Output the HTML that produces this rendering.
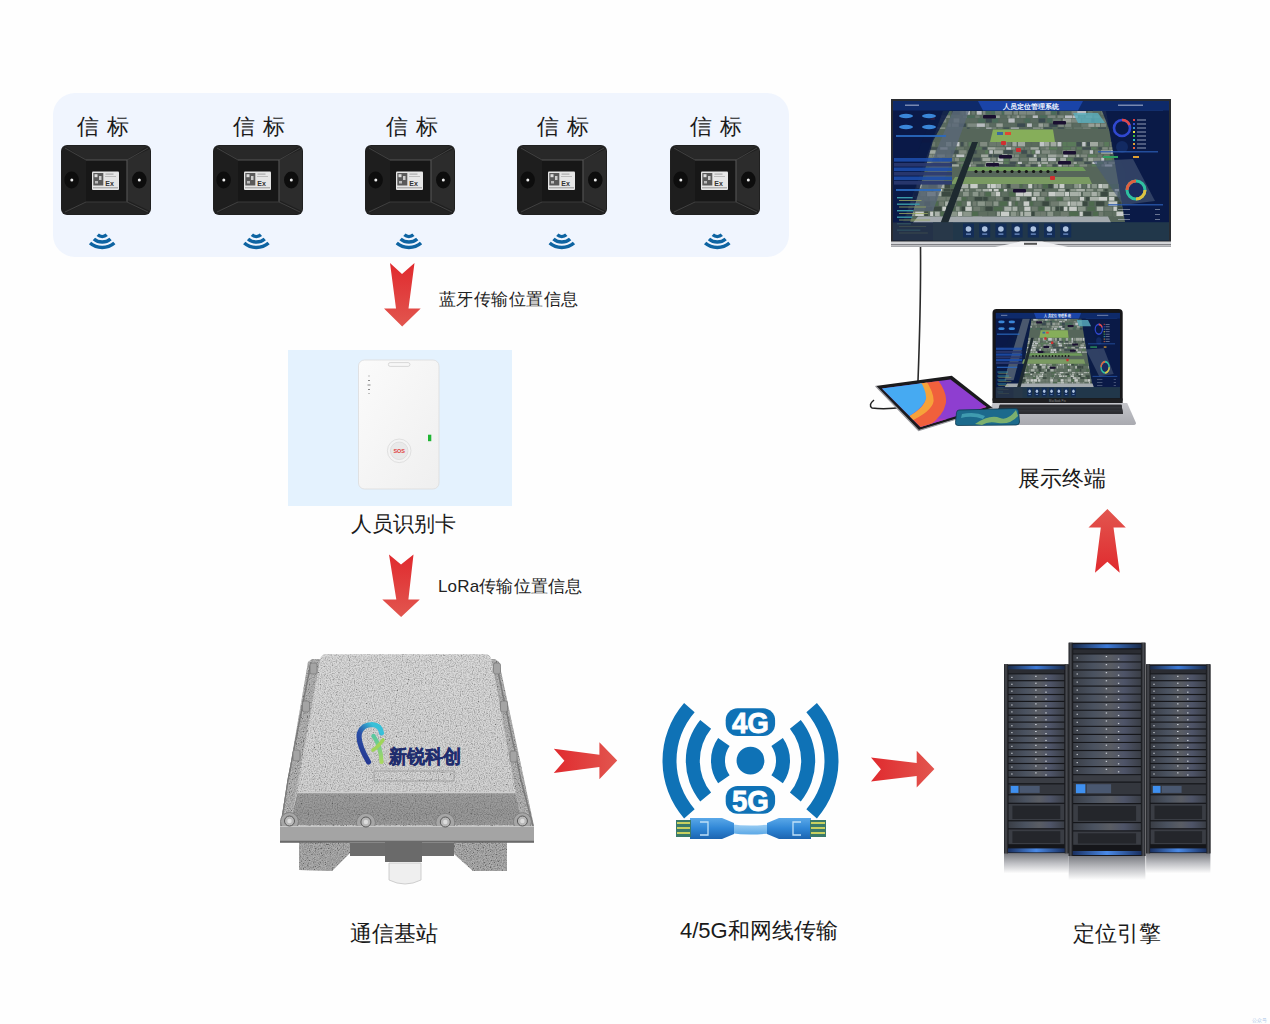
<!DOCTYPE html>
<html><head><meta charset="utf-8">
<style>
html,body{margin:0;padding:0}
body{width:1270px;height:1024px;position:relative;overflow:hidden;background:#fefefe;font-family:"Liberation Sans",sans-serif;color:#1a1a1a}
.a{position:absolute}
.lbl{position:absolute;white-space:nowrap;line-height:1}
</style></head><body>

<!-- beacon panel -->
<div class="a" style="left:53px;top:93px;width:736px;height:164px;background:#f0f5fe;border-radius:22px"></div>

<svg class="a" style="left:0;top:0" width="1270" height="1024"><defs><symbol id="bcn" viewBox="0 0 90 70">
<rect x="0" y="0" width="90" height="70" rx="6" fill="#202020"/>
<path d="M4 1 L86 1 L66 15 L25 15 Z" fill="#282828"/>
<path d="M89 4 L89 66 L66 55 L66 15 Z" fill="#2c2c2c"/>
<path d="M4 69 L86 69 L66 57 L25 57 Z" fill="#232323"/>
<path d="M1 4 L1 66 L25 57 L25 15 Z" fill="#1e1e1e"/>
<rect x="25" y="15" width="41" height="42" fill="#171717"/>
<path d="M25 15 L66 15 L66 57" fill="none" stroke="#555" stroke-width="1.1"/>
<path d="M66 15 L87 3 M66 57 L87 67 M25 57 L4 67 M25 15 L4 3" fill="none" stroke="#444" stroke-width="0.9"/>
<path d="M25 57 L66 57" stroke="#3a3a3a" stroke-width="1"/>
<ellipse cx="10.6" cy="35" rx="7.3" ry="8.5" fill="#0d0d0d"/><circle cx="10.8" cy="35" r="1.5" fill="#eee"/>
<ellipse cx="78.3" cy="35" rx="7.3" ry="8.5" fill="#0d0d0d"/><circle cx="78.3" cy="35" r="1.5" fill="#eee"/>
<rect x="31" y="26.5" width="27" height="18.5" rx="1" fill="#e6e6e6"/>
<rect x="32.3" y="28" width="10" height="12.5" fill="#5a5a5a"/>
<rect x="33.5" y="29.2" width="3" height="3" fill="#ddd"/><rect x="38" y="31" width="2.5" height="4" fill="#ccc"/><rect x="34" y="36" width="3" height="2.5" fill="#bbb"/>
<rect x="44.5" y="28.5" width="8" height="1.2" fill="#aaa"/><rect x="44" y="31" width="11" height="1" fill="#bbb"/>
<text x="44.3" y="40.5" font-family="Liberation Sans" font-size="7" font-weight="bold" fill="#333">Ex</text>
<rect x="32" y="42.3" width="25" height="1" fill="#999"/>
</symbol>
<symbol id="wifi" viewBox="0 0 26 17" preserveAspectRatio="none">
<path d="M17.35 1.83 A6.5 6.5 0 0 1 8.65 1.83 M21.03 5.92 A12 12 0 0 1 4.97 5.92 M24.71 10 A17.5 17.5 0 0 1 1.29 10" fill="none" stroke="#0e64a2" stroke-width="3.3"/>
</symbol></defs><use href="#bcn" x="61" y="145" width="90" height="70"/><use href="#wifi" x="88.7" y="233" width="27" height="17"/><use href="#bcn" x="213" y="145" width="90" height="70"/><use href="#wifi" x="242.9" y="233" width="27" height="17"/><use href="#bcn" x="365" y="145" width="90" height="70"/><use href="#wifi" x="395.4" y="233" width="27" height="17"/><use href="#bcn" x="517" y="145" width="90" height="70"/><use href="#wifi" x="548.3" y="233" width="27" height="17"/><use href="#bcn" x="670" y="145" width="90" height="70"/><use href="#wifi" x="703.8" y="233" width="27" height="17"/></svg>
<div class="lbl" style="left:77px;top:116px;font-size:22px;letter-spacing:7.5px">信标</div>
<div class="lbl" style="left:233px;top:116px;font-size:22px;letter-spacing:7.5px">信标</div>
<div class="lbl" style="left:386px;top:116px;font-size:22px;letter-spacing:7.5px">信标</div>
<div class="lbl" style="left:537px;top:116px;font-size:22px;letter-spacing:7.5px">信标</div>
<div class="lbl" style="left:690px;top:116px;font-size:22px;letter-spacing:7.5px">信标</div>

<!-- arrows -->
<svg class="a" style="left:0;top:0" width="1270" height="1024">
<defs>
<linearGradient id="rv" x1="0" y1="0" x2="0" y2="1"><stop offset="0" stop-color="#e02a2e"/><stop offset="1" stop-color="#e2564f"/></linearGradient>
<linearGradient id="rh" x1="0" y1="0" x2="1" y2="0"><stop offset="0" stop-color="#e02a2e"/><stop offset="1" stop-color="#e2564f"/></linearGradient>
<linearGradient id="ru" x1="0" y1="1" x2="0" y2="0"><stop offset="0" stop-color="#e02a2e"/><stop offset="1" stop-color="#e2564f"/></linearGradient>
</defs>
<path d="M390 263 L402 274 L414.5 263 L408.5 308.5 L420.7 308.5 L402.2 326.5 L384 308.5 L396 308.5 Z" fill="url(#rv)"/>
<path d="M389 554.5 L401 564.4 L413.5 554.5 L408.4 599.4 L419.8 599.4 L401.1 617 L382.3 599.4 L396.3 599.4 Z" fill="url(#rv)"/>
<path d="M553.8 748.7 L599.4 754.8 L599.4 742.2 L617.2 760.5 L599.4 779.2 L599.4 767 L553.8 772.9 L564.4 760.7 Z" fill="url(#rh)"/>
<path d="M871 757.4 L916.7 763 L916.7 750.7 L934.4 769 L916.7 787.4 L916.7 776 L871 781.5 L880.9 769.3 Z" fill="url(#rh)"/>
<path d="M1107.4 509.1 L1125.8 527.5 L1113.5 527.5 L1119.7 572.8 L1107.4 561.8 L1095 572.8 L1100.8 527.5 L1088.5 527.5 Z" fill="url(#ru)"/>
</svg>


<!-- ID card -->
<div class="a" style="left:288px;top:350px;width:224px;height:156px;background:#e4f2fe"></div>
<svg class="a" style="left:0;top:0" width="1270" height="1024">
<defs><linearGradient id="cardg" x1="0" y1="0" x2="1" y2="1"><stop offset="0" stop-color="#fbfbfb"/><stop offset="1" stop-color="#efefef"/></linearGradient></defs>
<rect x="358.5" y="360" width="80.5" height="129" rx="6" fill="url(#cardg)" stroke="#dcdcdc" stroke-width="0.8"/>
<rect x="388.4" y="362.6" width="21.5" height="3.8" rx="1.8" fill="#f7f7f7" stroke="#cfcfcf" stroke-width="0.8"/>
<g fill="#888"><rect x="368.5" y="375.5" width="1" height="1"/><rect x="368" y="380" width="2" height="1"/><rect x="367.5" y="384.5" width="3" height="1"/><rect x="368" y="389" width="2" height="1"/><rect x="368.5" y="393" width="1" height="1"/></g>
<circle cx="399.2" cy="450.8" r="11.8" fill="#f4f4f4" stroke="#e0e0e0" stroke-width="1"/>
<circle cx="399.2" cy="450.8" r="8.8" fill="#e9e9e9" stroke="#d4d4d4" stroke-width="0.6"/>
<text x="399.2" y="452.8" text-anchor="middle" font-family="Liberation Sans" font-size="5.5" font-weight="bold" fill="#e04040">SOS</text>
<rect x="428" y="434.7" width="3.3" height="6.5" fill="#1fb533"/>
</svg>


<!-- base station -->
<svg class="a" style="left:0;top:0" width="1270" height="1024">
<defs>
<linearGradient id="lidg" x1="0" y1="0" x2="0" y2="1"><stop offset="0" stop-color="#c2c2c2"/><stop offset="1" stop-color="#b8b8b8"/></linearGradient>
<linearGradient id="frontg" x1="0" y1="0" x2="0" y2="1"><stop offset="0" stop-color="#8e8e8e"/><stop offset="0.7" stop-color="#7e7e7e"/><stop offset="1" stop-color="#8a8a8a"/></linearGradient>
<filter id="grain" x="0" y="0" width="100%" height="100%"><feTurbulence type="fractalNoise" baseFrequency="0.83" numOctaves="2" seed="3"/><feColorMatrix type="matrix" values="2.0 0 0 0 -0.3  2.0 0 0 0 -0.3  2.0 0 0 0 -0.3  0 0 0 0 0.4"/><feComposite in2="SourceGraphic" operator="in"/></filter>
<filter id="grainD" x="0" y="0" width="100%" height="100%"><feTurbulence type="fractalNoise" baseFrequency="0.83" numOctaves="2" seed="9"/><feColorMatrix type="matrix" values="2.0 0 0 0 -0.5  2.0 0 0 0 -0.5  2.0 0 0 0 -0.5  0 0 0 0 0.3"/><feComposite in2="SourceGraphic" operator="in"/></filter>
<linearGradient id="logoL" x1="0" y1="1" x2="0.6" y2="0"><stop offset="0" stop-color="#22308a"/><stop offset="0.6" stop-color="#2a50a8"/><stop offset="1" stop-color="#38c0d8"/></linearGradient>
<linearGradient id="logoG" x1="0" y1="0" x2="0" y2="1"><stop offset="0" stop-color="#5ac8a0"/><stop offset="1" stop-color="#a8d860"/></linearGradient>
</defs>
<!-- rails -->
<path d="M308 662 L312 659 L495 659 L499 662 L534 826 L280 826 Z" fill="#9e9e9e"/>
<path d="M311 662 L288 780 L281 826" fill="none" stroke="#7a7a7a" stroke-width="1.2"/>
<path d="M496 662 L521 780 L533 826" fill="none" stroke="#7a7a7a" stroke-width="1.2"/>
<!-- feet & under -->
<path d="M350 843 L454 843 L454 856 L350 856 Z" fill="#6c6c6c"/>
<path d="M299 842 L350 842 L350 853 L332 871 L299 870 Z" fill="#929292"/>
<path d="M454 842 L507 842 L507 871 L473 871 L454 854 Z" fill="#929292"/>
<path d="M385 842 L422 842 L422 862 L385 862 Z" fill="#6a6a6a"/>
<path d="M389 863 L421 863 L421 880 Q405 888 389 880 Z" fill="#efefef" stroke="#c4c4c4" stroke-width="0.8"/>
<!-- flange band -->
<path d="M280 824 L534 824 L534 842 L280 842 Z" fill="#a9a9a9"/>
<path d="M280 842 L534 842" stroke="#6e6e6e" stroke-width="1.2"/>
<path d="M281 826 L533 826" stroke="#c4c4c4" stroke-width="1"/>
<g filter="url(#grainD)"><path d="M308 662 L312 659 L495 659 L499 662 L534 826 L534 842 L280 842 L280 826 Z M299 842 L350 842 L350 853 L332 871 L299 870 Z M454 842 L507 842 L507 871 L473 871 L454 854 Z" fill="#000"/></g>
<path d="M311 662 L288 780 L281 826" fill="none" stroke="#7a7a7a" stroke-width="1.2"/>
<path d="M496 662 L521 780 L533 826" fill="none" stroke="#7a7a7a" stroke-width="1.2"/>
<path d="M280 842 L534 842" stroke="#6e6e6e" stroke-width="1.2"/>
<!-- lid front face -->
<path d="M297.5 792 L515.5 792 L522 825 L290 825 Z" fill="url(#frontg)"/>
<path d="M297.5 792.5 L515.5 792.5" stroke="#c6c6c6" stroke-width="1.2"/>
<!-- lid top -->
<path d="M326 654.3 L485 654.3 Q490.5 654.3 491.5 660 L515.5 792 L297.5 792 L320 660 Q321 654.3 326 654.3 Z" fill="url(#lidg)"/>
<g filter="url(#grain)"><path d="M326 654.3 L485 654.3 Q490.5 654.3 491.5 660 L522 825 L290 825 L320 660 Q321 654.3 326 654.3 Z" fill="#000"/></g>
<path d="M297.5 793 L515.5 793 L522 825 L290 825 Z" fill="#6a6a6a" opacity="0.35"/>
<path d="M297.5 792.5 L515.5 792.5" stroke="#cfcfcf" stroke-width="1.4"/>
<!-- rail bumps -->
<g fill="#a4a4a4" stroke="#777" stroke-width="0.7">
<rect x="310" y="663" width="7" height="11" rx="2"/><rect x="302.5" y="701" width="7" height="11" rx="2"/><rect x="293" y="750" width="7" height="11" rx="2"/>
<rect x="493.5" y="663" width="7" height="11" rx="2"/><rect x="500.5" y="701" width="7" height="11" rx="2"/><rect x="510" y="751" width="7" height="11" rx="2"/>
</g>
<!-- bolts -->
<g fill="#a6a6a6" stroke="#808080" stroke-width="1">
<circle cx="289.5" cy="821.5" r="9"/><circle cx="365.9" cy="822.8" r="9.5"/><circle cx="445.3" cy="822.8" r="9.5"/><circle cx="522.4" cy="821.7" r="9"/>
</g>
<path d="M280 826 L534 826 L534 842 L280 842 Z" fill="#a4a4a4"/>
<path d="M280 826.5 L534 826.5" stroke="#c8c8c8" stroke-width="1.2"/>
<path d="M280 841.5 L534 841.5" stroke="#6a6a6a" stroke-width="1.4"/>
<g><circle cx="289.5" cy="821" r="5" fill="#b8b8b8" stroke="#5a5a5a" stroke-width="1"/><circle cx="289.5" cy="821" r="2.2" fill="#dcdcdc"/>
<circle cx="365.9" cy="822" r="5" fill="#b8b8b8" stroke="#5a5a5a" stroke-width="1"/><circle cx="365.9" cy="822" r="2.2" fill="#dcdcdc"/>
<circle cx="445.3" cy="822" r="5" fill="#b8b8b8" stroke="#5a5a5a" stroke-width="1"/><circle cx="445.3" cy="822" r="2.2" fill="#dcdcdc"/>
<circle cx="522.4" cy="821" r="5" fill="#b8b8b8" stroke="#5a5a5a" stroke-width="1"/><circle cx="522.4" cy="821" r="2.2" fill="#dcdcdc"/></g>
<!-- logo -->
<path d="M368.5 762 Q357 742 359.5 733 Q362.5 724.5 372 724.5 Q380.5 725 381.5 733" fill="none" stroke="url(#logoL)" stroke-width="5.2" stroke-linecap="round"/>
<path d="M373.5 736 Q381 746 381.5 762" fill="none" stroke="url(#logoG)" stroke-width="4.2" stroke-linecap="round"/>
<path d="M383 740 Q378 747 373 750" fill="none" stroke="#a0d45a" stroke-width="3.6" stroke-linecap="round"/>
<text x="389" y="763.3" font-family="Liberation Sans" font-size="18.5" font-weight="bold" fill="#1f2d6e" stroke="#1f2d6e" stroke-width="0.4" textLength="72" lengthAdjust="spacingAndGlyphs">新锐科创</text>
<rect x="374" y="771" width="80" height="10" fill="none" stroke="#999" stroke-width="0.8"/>
</svg>

<!-- 4G/5G icon -->
<svg class="a" style="left:0;top:0" width="1270" height="1024">
<defs>
<linearGradient id="plug" x1="0" y1="0" x2="0" y2="1"><stop offset="0" stop-color="#5aa8e8"/><stop offset="0.5" stop-color="#2f86d6"/><stop offset="1" stop-color="#1c64b0"/></linearGradient>
<linearGradient id="cablem" x1="0" y1="0" x2="0" y2="1"><stop offset="0" stop-color="#9fd0f5"/><stop offset="1" stop-color="#5ba8e6"/></linearGradient>
</defs>
<g fill="#0f72b6">
<path d="M718.14 738.04 A39.5 39.5 0 0 0 718.14 783.36 L729.61 775.33 A25.5 25.5 0 0 1 729.61 746.07 Z M782.86 738.04 A39.5 39.5 0 0 1 782.86 783.36 L771.39 775.33 A25.5 25.5 0 0 0 771.39 746.07 Z M700.22 719.98 A64.7 64.7 0 0 0 700.22 801.42 L711.10 792.61 A50.7 50.7 0 0 1 711.10 728.79 Z M800.78 719.98 A64.7 64.7 0 0 1 800.78 801.42 L789.90 792.61 A50.7 50.7 0 0 0 789.90 728.79 Z M684.09 702.97 A88.0 88.0 0 0 0 684.09 818.43 L694.65 809.25 A74.0 74.0 0 0 1 694.65 712.15 Z M816.91 702.97 A88.0 88.0 0 0 1 816.91 818.43 L806.35 809.25 A74.0 74.0 0 0 0 806.35 712.15 Z"/>
<circle cx="750.5" cy="760.7" r="13.9"/>
<rect x="725.7" y="708.2" width="49.4" height="27.7" rx="12"/>
<rect x="725.7" y="786.1" width="49.4" height="27.7" rx="12"/>
</g>
<text x="750.4" y="733.2" text-anchor="middle" font-family="Liberation Sans" font-weight="bold" font-size="29.5" fill="#fff" stroke="#fff" stroke-width="0.8" textLength="37" lengthAdjust="spacingAndGlyphs">4G</text>
<text x="750.4" y="811.2" text-anchor="middle" font-family="Liberation Sans" font-weight="bold" font-size="29.5" fill="#fff" stroke="#fff" stroke-width="0.8" textLength="37" lengthAdjust="spacingAndGlyphs">5G</text>
<!-- cable -->
<path d="M730 824 Q750 827 773 824 L773 833 Q750 836 730 833 Z" fill="url(#cablem)"/>
<path d="M690 818 L722 818 L734 823 L734 834 L722 839 L690 839 Z" fill="url(#plug)"/>
<path d="M811 818 L779 818 L767 823 L767 834 L779 839 L811 839 Z" fill="url(#plug)"/>
<rect x="676" y="820" width="15" height="17" fill="#3a7a6a"/>
<rect x="810" y="820" width="16" height="17" fill="#3a7a6a"/>
<g fill="#c8d060"><rect x="677" y="822" width="13" height="2"/><rect x="677" y="827" width="13" height="2"/><rect x="677" y="832" width="13" height="2"/>
<rect x="811" y="822" width="14" height="2"/><rect x="811" y="827" width="14" height="2"/><rect x="811" y="832" width="14" height="2"/></g>
<path d="M700 822 L708 822 L708 835 L700 835" fill="none" stroke="#bfe0f8" stroke-width="1.3"/>
<path d="M801 822 L793 822 L793 835 L801 835" fill="none" stroke="#bfe0f8" stroke-width="1.3"/>
</svg>

<!-- servers -->
<svg class="a" style="left:0;top:0" width="1270" height="1024"><defs>
<linearGradient id="glowT" x1="0" y1="0" x2="1" y2="0"><stop offset="0" stop-color="#1a2a48"/><stop offset="0.5" stop-color="#3c7ad8"/><stop offset="1" stop-color="#1a2a48"/></linearGradient>
<linearGradient id="glowB" x1="0" y1="0" x2="1" y2="0"><stop offset="0" stop-color="#1a3060"/><stop offset="0.5" stop-color="#4a8ae8"/><stop offset="1" stop-color="#1a3060"/></linearGradient>
<linearGradient id="unit" x1="0" y1="0" x2="1" y2="0"><stop offset="0" stop-color="#3a3e46"/><stop offset="0.3" stop-color="#4a5260"/><stop offset="0.55" stop-color="#5a5d64"/><stop offset="0.75" stop-color="#4e5468"/><stop offset="1" stop-color="#3a3e46"/></linearGradient>
<linearGradient id="rail" x1="0" y1="0" x2="1" y2="0"><stop offset="0" stop-color="#222428"/><stop offset="0.5" stop-color="#4a4c52"/><stop offset="1" stop-color="#1a1b1f"/></linearGradient>
<linearGradient id="refl" x1="0" y1="0" x2="0" y2="1"><stop offset="0" stop-color="#7a7c82"/><stop offset="0.5" stop-color="#bfc0c4"/><stop offset="1" stop-color="#fefefe"/></linearGradient>
</defs>
<rect x="1004" y="853.4" width="64.7" height="20" fill="url(#refl)"/>
<rect x="1146.1" y="853.4" width="64.3" height="20" fill="url(#refl)"/>
<rect x="1068.7" y="856" width="76.7" height="24" fill="url(#refl)"/>
<rect x="1004" y="664.3" width="64.7" height="189.1" fill="#15161a"/>
<rect x="1004" y="664.3" width="4" height="189.1" fill="url(#rail)"/>
<rect x="1064.7" y="664.3" width="4" height="189.1" fill="url(#rail)"/>
<rect x="1008" y="665.8" width="56.7" height="4" fill="url(#glowT)"/>
<rect x="1008.5" y="669.4" width="55.7" height="4" fill="#2a2c32"/>
<rect x="1008.5" y="674.4" width="55.7" height="5.7" fill="url(#unit)"/>
<rect x="1011.3" y="676.8" width="1.2" height="1.2" fill="#d0d4da"/>
<rect x="1035.2" y="675.8" width="1.4" height="1" fill="#e0e4ea"/>
<rect x="1045.3" y="677.9" width="1.4" height="1.2" fill="#c8ccd2"/>
<rect x="1008.5" y="681.3" width="55.7" height="5.7" fill="url(#unit)"/>
<rect x="1011.3" y="683.7" width="1.2" height="1.2" fill="#d0d4da"/>
<rect x="1035.2" y="682.7" width="1.4" height="1" fill="#e0e4ea"/>
<rect x="1045.3" y="684.8" width="1.4" height="1.2" fill="#c8ccd2"/>
<rect x="1008.5" y="688.2" width="55.7" height="5.7" fill="url(#unit)"/>
<rect x="1011.3" y="690.6" width="1.2" height="1.2" fill="#d0d4da"/>
<rect x="1035.2" y="689.6" width="1.4" height="1" fill="#e0e4ea"/>
<rect x="1045.3" y="691.6" width="1.4" height="1.2" fill="#c8ccd2"/>
<rect x="1008.5" y="695.1" width="55.7" height="5.7" fill="url(#unit)"/>
<rect x="1011.3" y="697.5" width="1.2" height="1.2" fill="#d0d4da"/>
<rect x="1035.2" y="696.5" width="1.4" height="1" fill="#e0e4ea"/>
<rect x="1045.3" y="698.5" width="1.4" height="1.2" fill="#c8ccd2"/>
<rect x="1008.5" y="702.0" width="55.7" height="5.7" fill="url(#unit)"/>
<rect x="1011.3" y="704.4" width="1.2" height="1.2" fill="#d0d4da"/>
<rect x="1035.2" y="703.4" width="1.4" height="1" fill="#e0e4ea"/>
<rect x="1045.3" y="705.4" width="1.4" height="1.2" fill="#c8ccd2"/>
<rect x="1008.5" y="708.9" width="55.7" height="5.7" fill="url(#unit)"/>
<rect x="1011.3" y="711.3" width="1.2" height="1.2" fill="#d0d4da"/>
<rect x="1035.2" y="710.3" width="1.4" height="1" fill="#e0e4ea"/>
<rect x="1045.3" y="712.3" width="1.4" height="1.2" fill="#c8ccd2"/>
<rect x="1008.5" y="715.8" width="55.7" height="5.7" fill="url(#unit)"/>
<rect x="1011.3" y="718.2" width="1.2" height="1.2" fill="#d0d4da"/>
<rect x="1035.2" y="717.2" width="1.4" height="1" fill="#e0e4ea"/>
<rect x="1045.3" y="719.2" width="1.4" height="1.2" fill="#c8ccd2"/>
<rect x="1008.5" y="722.7" width="55.7" height="5.7" fill="url(#unit)"/>
<rect x="1011.3" y="725.1" width="1.2" height="1.2" fill="#d0d4da"/>
<rect x="1035.2" y="724.1" width="1.4" height="1" fill="#e0e4ea"/>
<rect x="1045.3" y="726.1" width="1.4" height="1.2" fill="#c8ccd2"/>
<rect x="1008.5" y="729.6" width="55.7" height="5.7" fill="url(#unit)"/>
<rect x="1011.3" y="732.0" width="1.2" height="1.2" fill="#d0d4da"/>
<rect x="1035.2" y="731.0" width="1.4" height="1" fill="#e0e4ea"/>
<rect x="1045.3" y="733.0" width="1.4" height="1.2" fill="#c8ccd2"/>
<rect x="1008.5" y="736.5" width="55.7" height="5.7" fill="url(#unit)"/>
<rect x="1011.3" y="738.9" width="1.2" height="1.2" fill="#d0d4da"/>
<rect x="1035.2" y="737.9" width="1.4" height="1" fill="#e0e4ea"/>
<rect x="1045.3" y="739.9" width="1.4" height="1.2" fill="#c8ccd2"/>
<rect x="1008.5" y="743.4" width="55.7" height="5.7" fill="url(#unit)"/>
<rect x="1011.3" y="745.8" width="1.2" height="1.2" fill="#d0d4da"/>
<rect x="1035.2" y="744.8" width="1.4" height="1" fill="#e0e4ea"/>
<rect x="1045.3" y="746.8" width="1.4" height="1.2" fill="#c8ccd2"/>
<rect x="1008.5" y="750.3" width="55.7" height="5.7" fill="url(#unit)"/>
<rect x="1011.3" y="752.7" width="1.2" height="1.2" fill="#d0d4da"/>
<rect x="1035.2" y="751.7" width="1.4" height="1" fill="#e0e4ea"/>
<rect x="1045.3" y="753.7" width="1.4" height="1.2" fill="#c8ccd2"/>
<rect x="1008.5" y="757.2" width="55.7" height="5.7" fill="url(#unit)"/>
<rect x="1011.3" y="759.6" width="1.2" height="1.2" fill="#d0d4da"/>
<rect x="1035.2" y="758.6" width="1.4" height="1" fill="#e0e4ea"/>
<rect x="1045.3" y="760.6" width="1.4" height="1.2" fill="#c8ccd2"/>
<rect x="1008.5" y="764.1" width="55.7" height="5.7" fill="url(#unit)"/>
<rect x="1011.3" y="766.5" width="1.2" height="1.2" fill="#d0d4da"/>
<rect x="1035.2" y="765.5" width="1.4" height="1" fill="#e0e4ea"/>
<rect x="1045.3" y="767.5" width="1.4" height="1.2" fill="#c8ccd2"/>
<rect x="1008.5" y="771.0" width="55.7" height="5.7" fill="url(#unit)"/>
<rect x="1011.3" y="773.4" width="1.2" height="1.2" fill="#d0d4da"/>
<rect x="1035.2" y="772.4" width="1.4" height="1" fill="#e0e4ea"/>
<rect x="1045.3" y="774.4" width="1.4" height="1.2" fill="#c8ccd2"/>
<rect x="1008.5" y="777.9" width="55.7" height="5.3" fill="#3a3d44"/>
<rect x="1008.5" y="784.4" width="55.7" height="9.8" fill="#34373e"/>
<rect x="1010.7" y="785.9" width="7.8" height="7.0" fill="#3f90f0"/>
<rect x="1019.6" y="785.9" width="20.1" height="7.0" fill="#4a5870"/>
<rect x="1008.5" y="795.4" width="55.7" height="7.3" fill="url(#unit)"/>
<rect x="1008.5" y="803.9" width="55.7" height="16.3" fill="#3a3d44"/>
<rect x="1012.4" y="805.7" width="47.9" height="13.3" fill="#24262b"/>
<rect x="1008.5" y="821.4" width="55.7" height="6.8" fill="url(#unit)"/>
<rect x="1008.5" y="829.4" width="55.7" height="14.8" fill="#3a3d44"/>
<rect x="1012.4" y="831.2" width="47.9" height="11.8" fill="#24262b"/>
<rect x="1008" y="848.4" width="56.7" height="4" fill="url(#glowB)"/>
<rect x="1146.1" y="664.3" width="64.3" height="189.1" fill="#15161a"/>
<rect x="1146.1" y="664.3" width="4" height="189.1" fill="url(#rail)"/>
<rect x="1206.4" y="664.3" width="4" height="189.1" fill="url(#rail)"/>
<rect x="1150.1" y="665.8" width="56.3" height="4" fill="url(#glowT)"/>
<rect x="1150.6" y="669.4" width="55.3" height="4" fill="#2a2c32"/>
<rect x="1150.6" y="674.4" width="55.3" height="5.7" fill="url(#unit)"/>
<rect x="1153.4" y="676.8" width="1.2" height="1.2" fill="#d0d4da"/>
<rect x="1177.1" y="675.8" width="1.4" height="1" fill="#e0e4ea"/>
<rect x="1187.1" y="677.9" width="1.4" height="1.2" fill="#c8ccd2"/>
<rect x="1150.6" y="681.3" width="55.3" height="5.7" fill="url(#unit)"/>
<rect x="1153.4" y="683.7" width="1.2" height="1.2" fill="#d0d4da"/>
<rect x="1177.1" y="682.7" width="1.4" height="1" fill="#e0e4ea"/>
<rect x="1187.1" y="684.8" width="1.4" height="1.2" fill="#c8ccd2"/>
<rect x="1150.6" y="688.2" width="55.3" height="5.7" fill="url(#unit)"/>
<rect x="1153.4" y="690.6" width="1.2" height="1.2" fill="#d0d4da"/>
<rect x="1177.1" y="689.6" width="1.4" height="1" fill="#e0e4ea"/>
<rect x="1187.1" y="691.6" width="1.4" height="1.2" fill="#c8ccd2"/>
<rect x="1150.6" y="695.1" width="55.3" height="5.7" fill="url(#unit)"/>
<rect x="1153.4" y="697.5" width="1.2" height="1.2" fill="#d0d4da"/>
<rect x="1177.1" y="696.5" width="1.4" height="1" fill="#e0e4ea"/>
<rect x="1187.1" y="698.5" width="1.4" height="1.2" fill="#c8ccd2"/>
<rect x="1150.6" y="702.0" width="55.3" height="5.7" fill="url(#unit)"/>
<rect x="1153.4" y="704.4" width="1.2" height="1.2" fill="#d0d4da"/>
<rect x="1177.1" y="703.4" width="1.4" height="1" fill="#e0e4ea"/>
<rect x="1187.1" y="705.4" width="1.4" height="1.2" fill="#c8ccd2"/>
<rect x="1150.6" y="708.9" width="55.3" height="5.7" fill="url(#unit)"/>
<rect x="1153.4" y="711.3" width="1.2" height="1.2" fill="#d0d4da"/>
<rect x="1177.1" y="710.3" width="1.4" height="1" fill="#e0e4ea"/>
<rect x="1187.1" y="712.3" width="1.4" height="1.2" fill="#c8ccd2"/>
<rect x="1150.6" y="715.8" width="55.3" height="5.7" fill="url(#unit)"/>
<rect x="1153.4" y="718.2" width="1.2" height="1.2" fill="#d0d4da"/>
<rect x="1177.1" y="717.2" width="1.4" height="1" fill="#e0e4ea"/>
<rect x="1187.1" y="719.2" width="1.4" height="1.2" fill="#c8ccd2"/>
<rect x="1150.6" y="722.7" width="55.3" height="5.7" fill="url(#unit)"/>
<rect x="1153.4" y="725.1" width="1.2" height="1.2" fill="#d0d4da"/>
<rect x="1177.1" y="724.1" width="1.4" height="1" fill="#e0e4ea"/>
<rect x="1187.1" y="726.1" width="1.4" height="1.2" fill="#c8ccd2"/>
<rect x="1150.6" y="729.6" width="55.3" height="5.7" fill="url(#unit)"/>
<rect x="1153.4" y="732.0" width="1.2" height="1.2" fill="#d0d4da"/>
<rect x="1177.1" y="731.0" width="1.4" height="1" fill="#e0e4ea"/>
<rect x="1187.1" y="733.0" width="1.4" height="1.2" fill="#c8ccd2"/>
<rect x="1150.6" y="736.5" width="55.3" height="5.7" fill="url(#unit)"/>
<rect x="1153.4" y="738.9" width="1.2" height="1.2" fill="#d0d4da"/>
<rect x="1177.1" y="737.9" width="1.4" height="1" fill="#e0e4ea"/>
<rect x="1187.1" y="739.9" width="1.4" height="1.2" fill="#c8ccd2"/>
<rect x="1150.6" y="743.4" width="55.3" height="5.7" fill="url(#unit)"/>
<rect x="1153.4" y="745.8" width="1.2" height="1.2" fill="#d0d4da"/>
<rect x="1177.1" y="744.8" width="1.4" height="1" fill="#e0e4ea"/>
<rect x="1187.1" y="746.8" width="1.4" height="1.2" fill="#c8ccd2"/>
<rect x="1150.6" y="750.3" width="55.3" height="5.7" fill="url(#unit)"/>
<rect x="1153.4" y="752.7" width="1.2" height="1.2" fill="#d0d4da"/>
<rect x="1177.1" y="751.7" width="1.4" height="1" fill="#e0e4ea"/>
<rect x="1187.1" y="753.7" width="1.4" height="1.2" fill="#c8ccd2"/>
<rect x="1150.6" y="757.2" width="55.3" height="5.7" fill="url(#unit)"/>
<rect x="1153.4" y="759.6" width="1.2" height="1.2" fill="#d0d4da"/>
<rect x="1177.1" y="758.6" width="1.4" height="1" fill="#e0e4ea"/>
<rect x="1187.1" y="760.6" width="1.4" height="1.2" fill="#c8ccd2"/>
<rect x="1150.6" y="764.1" width="55.3" height="5.7" fill="url(#unit)"/>
<rect x="1153.4" y="766.5" width="1.2" height="1.2" fill="#d0d4da"/>
<rect x="1177.1" y="765.5" width="1.4" height="1" fill="#e0e4ea"/>
<rect x="1187.1" y="767.5" width="1.4" height="1.2" fill="#c8ccd2"/>
<rect x="1150.6" y="771.0" width="55.3" height="5.7" fill="url(#unit)"/>
<rect x="1153.4" y="773.4" width="1.2" height="1.2" fill="#d0d4da"/>
<rect x="1177.1" y="772.4" width="1.4" height="1" fill="#e0e4ea"/>
<rect x="1187.1" y="774.4" width="1.4" height="1.2" fill="#c8ccd2"/>
<rect x="1150.6" y="777.9" width="55.3" height="5.3" fill="#3a3d44"/>
<rect x="1150.6" y="784.4" width="55.3" height="9.8" fill="#34373e"/>
<rect x="1152.8" y="785.9" width="7.7" height="7.0" fill="#3f90f0"/>
<rect x="1161.7" y="785.9" width="19.9" height="7.0" fill="#4a5870"/>
<rect x="1150.6" y="795.4" width="55.3" height="7.3" fill="url(#unit)"/>
<rect x="1150.6" y="803.9" width="55.3" height="16.3" fill="#3a3d44"/>
<rect x="1154.5" y="805.7" width="47.6" height="13.3" fill="#24262b"/>
<rect x="1150.6" y="821.4" width="55.3" height="6.8" fill="url(#unit)"/>
<rect x="1150.6" y="829.4" width="55.3" height="14.8" fill="#3a3d44"/>
<rect x="1154.5" y="831.2" width="47.6" height="11.8" fill="#24262b"/>
<rect x="1150.1" y="848.4" width="56.3" height="4" fill="url(#glowB)"/>
<rect x="1068.7" y="642.7" width="76.7" height="213.3" fill="#15161a"/>
<rect x="1068.7" y="642.7" width="4" height="213.3" fill="url(#rail)"/>
<rect x="1141.4" y="642.7" width="4" height="213.3" fill="url(#rail)"/>
<rect x="1072.7" y="644.2" width="68.7" height="4" fill="url(#glowT)"/>
<rect x="1073.2" y="649.5" width="67.7" height="4" fill="#2a2c32"/>
<rect x="1073.2" y="654.5" width="67.7" height="6.9" fill="url(#unit)"/>
<rect x="1076.6" y="657.3" width="1.2" height="1.2" fill="#d0d4da"/>
<rect x="1105.7" y="656.1" width="1.4" height="1" fill="#e0e4ea"/>
<rect x="1117.9" y="658.5" width="1.4" height="1.2" fill="#c8ccd2"/>
<rect x="1073.2" y="662.5" width="67.7" height="6.9" fill="url(#unit)"/>
<rect x="1076.6" y="665.4" width="1.2" height="1.2" fill="#d0d4da"/>
<rect x="1105.7" y="664.2" width="1.4" height="1" fill="#e0e4ea"/>
<rect x="1117.9" y="666.6" width="1.4" height="1.2" fill="#c8ccd2"/>
<rect x="1073.2" y="670.6" width="67.7" height="6.9" fill="url(#unit)"/>
<rect x="1076.6" y="673.4" width="1.2" height="1.2" fill="#d0d4da"/>
<rect x="1105.7" y="672.2" width="1.4" height="1" fill="#e0e4ea"/>
<rect x="1117.9" y="674.6" width="1.4" height="1.2" fill="#c8ccd2"/>
<rect x="1073.2" y="678.6" width="67.7" height="6.9" fill="url(#unit)"/>
<rect x="1076.6" y="681.5" width="1.2" height="1.2" fill="#d0d4da"/>
<rect x="1105.7" y="680.3" width="1.4" height="1" fill="#e0e4ea"/>
<rect x="1117.9" y="682.7" width="1.4" height="1.2" fill="#c8ccd2"/>
<rect x="1073.2" y="686.7" width="67.7" height="6.9" fill="url(#unit)"/>
<rect x="1076.6" y="689.5" width="1.2" height="1.2" fill="#d0d4da"/>
<rect x="1105.7" y="688.3" width="1.4" height="1" fill="#e0e4ea"/>
<rect x="1117.9" y="690.7" width="1.4" height="1.2" fill="#c8ccd2"/>
<rect x="1073.2" y="694.7" width="67.7" height="6.9" fill="url(#unit)"/>
<rect x="1076.6" y="697.6" width="1.2" height="1.2" fill="#d0d4da"/>
<rect x="1105.7" y="696.4" width="1.4" height="1" fill="#e0e4ea"/>
<rect x="1117.9" y="698.8" width="1.4" height="1.2" fill="#c8ccd2"/>
<rect x="1073.2" y="702.8" width="67.7" height="6.9" fill="url(#unit)"/>
<rect x="1076.6" y="705.6" width="1.2" height="1.2" fill="#d0d4da"/>
<rect x="1105.7" y="704.4" width="1.4" height="1" fill="#e0e4ea"/>
<rect x="1117.9" y="706.8" width="1.4" height="1.2" fill="#c8ccd2"/>
<rect x="1073.2" y="710.8" width="67.7" height="6.9" fill="url(#unit)"/>
<rect x="1076.6" y="713.7" width="1.2" height="1.2" fill="#d0d4da"/>
<rect x="1105.7" y="712.5" width="1.4" height="1" fill="#e0e4ea"/>
<rect x="1117.9" y="714.9" width="1.4" height="1.2" fill="#c8ccd2"/>
<rect x="1073.2" y="718.9" width="67.7" height="6.9" fill="url(#unit)"/>
<rect x="1076.6" y="721.7" width="1.2" height="1.2" fill="#d0d4da"/>
<rect x="1105.7" y="720.5" width="1.4" height="1" fill="#e0e4ea"/>
<rect x="1117.9" y="722.9" width="1.4" height="1.2" fill="#c8ccd2"/>
<rect x="1073.2" y="726.9" width="67.7" height="6.9" fill="url(#unit)"/>
<rect x="1076.6" y="729.8" width="1.2" height="1.2" fill="#d0d4da"/>
<rect x="1105.7" y="728.6" width="1.4" height="1" fill="#e0e4ea"/>
<rect x="1117.9" y="731.0" width="1.4" height="1.2" fill="#c8ccd2"/>
<rect x="1073.2" y="735.0" width="67.7" height="6.9" fill="url(#unit)"/>
<rect x="1076.6" y="737.8" width="1.2" height="1.2" fill="#d0d4da"/>
<rect x="1105.7" y="736.6" width="1.4" height="1" fill="#e0e4ea"/>
<rect x="1117.9" y="739.0" width="1.4" height="1.2" fill="#c8ccd2"/>
<rect x="1073.2" y="743.0" width="67.7" height="6.9" fill="url(#unit)"/>
<rect x="1076.6" y="745.9" width="1.2" height="1.2" fill="#d0d4da"/>
<rect x="1105.7" y="744.7" width="1.4" height="1" fill="#e0e4ea"/>
<rect x="1117.9" y="747.1" width="1.4" height="1.2" fill="#c8ccd2"/>
<rect x="1073.2" y="751.1" width="67.7" height="6.9" fill="url(#unit)"/>
<rect x="1076.6" y="753.9" width="1.2" height="1.2" fill="#d0d4da"/>
<rect x="1105.7" y="752.7" width="1.4" height="1" fill="#e0e4ea"/>
<rect x="1117.9" y="755.1" width="1.4" height="1.2" fill="#c8ccd2"/>
<rect x="1073.2" y="759.1" width="67.7" height="6.9" fill="url(#unit)"/>
<rect x="1076.6" y="762.0" width="1.2" height="1.2" fill="#d0d4da"/>
<rect x="1105.7" y="760.8" width="1.4" height="1" fill="#e0e4ea"/>
<rect x="1117.9" y="763.2" width="1.4" height="1.2" fill="#c8ccd2"/>
<rect x="1073.2" y="767.2" width="67.7" height="6.9" fill="url(#unit)"/>
<rect x="1076.6" y="770.0" width="1.2" height="1.2" fill="#d0d4da"/>
<rect x="1105.7" y="768.8" width="1.4" height="1" fill="#e0e4ea"/>
<rect x="1117.9" y="771.2" width="1.4" height="1.2" fill="#c8ccd2"/>
<rect x="1073.2" y="775.2" width="67.7" height="6.3" fill="#3a3d44"/>
<rect x="1073.2" y="782.7" width="67.7" height="11.8" fill="#34373e"/>
<rect x="1075.9" y="784.2" width="9.5" height="9.0" fill="#3f90f0"/>
<rect x="1086.7" y="784.2" width="24.4" height="9.0" fill="#4a5870"/>
<rect x="1073.2" y="795.7" width="67.7" height="7.3" fill="url(#unit)"/>
<rect x="1073.2" y="804.2" width="67.7" height="17.8" fill="#3a3d44"/>
<rect x="1077.9" y="806.0" width="58.2" height="14.8" fill="#24262b"/>
<rect x="1073.2" y="823.2" width="67.7" height="7.1" fill="url(#unit)"/>
<rect x="1073.2" y="831.5" width="67.7" height="13.3" fill="#3a3d44"/>
<rect x="1077.9" y="833.3" width="58.2" height="10.3" fill="#24262b"/>
<rect x="1072.7" y="851.0" width="68.7" height="4" fill="url(#glowB)"/>
</svg>

<!-- TV -->
<svg class="a" style="left:0;top:0" width="1270" height="1024">
<defs>
<linearGradient id="hdr" x1="0" y1="0" x2="1" y2="0"><stop offset="0" stop-color="#0c2a66"/><stop offset="0.3" stop-color="#1840a0"/><stop offset="0.7" stop-color="#1840a0"/><stop offset="1" stop-color="#0c2a66"/></linearGradient>
<linearGradient id="phg" x1="0" y1="0" x2="1" y2="0"><stop offset="0" stop-color="#1f7a9a"/><stop offset="0.5" stop-color="#3aa0a0"/><stop offset="0.75" stop-color="#8fc060"/><stop offset="1" stop-color="#1a6a8a"/></linearGradient>
<linearGradient id="deck" x1="0" y1="0" x2="0" y2="1"><stop offset="0" stop-color="#c4c5ca"/><stop offset="1" stop-color="#a9aab0"/></linearGradient>
<clipPath id="tvclip"><rect x="893" y="101" width="276" height="139.5"/></clipPath>
<clipPath id="lapclip"><rect x="995.6" y="312.7" width="124.4" height="85.6"/></clipPath>
<clipPath id="tabclip"><path d="M882 388.5 L950.5 379.5 L986.5 407 L920.5 427 Z"/></clipPath>
</defs>
<!-- TV body -->
<rect x="891" y="99" width="280" height="148" fill="#2a2c30"/>
<rect x="891" y="241.5" width="280" height="5.5" fill="#d4d5d8"/>
<rect x="891" y="244.2" width="280" height="1" fill="#6a6c70"/>
<rect x="891" y="246" width="280" height="1" fill="#a8aaae"/>
<path d="M995 247 L1021 241.5 L1042 241.5 L1068 247 Z" fill="#f2f2f4"/>
<rect x="1024" y="242.8" width="13" height="2" fill="#555"/>
<g clip-path="url(#tvclip)"><g transform="translate(893 101)">
<rect x="0" y="0" width="276.0" height="139.5" fill="#0b1c46"/>
<path d="M50 10 L213 10 L232 121 L10 121 Z" fill="#56665a"/>
<rect x="50.0" y="10.0" width="7.3" height="3.7" fill="#4a6a5a"/>
<rect x="58.7" y="10.0" width="8.0" height="3.7" fill="#3a4a50"/>
<rect x="68.5" y="10.0" width="2.7" height="3.7" fill="#6a7a70"/>
<rect x="72.8" y="10.0" width="4.1" height="3.7" fill="#b8bcc0"/>
<rect x="78.7" y="10.0" width="3.2" height="3.7" fill="#6a7a70"/>
<rect x="83.7" y="10.0" width="5.0" height="3.7" fill="#b8bcc0"/>
<rect x="89.8" y="10.0" width="2.6" height="3.7" fill="#7c8880"/>
<rect x="93.2" y="10.0" width="3.7" height="3.7" fill="#4a6a5a"/>
<rect x="98.4" y="10.0" width="3.5" height="3.7" fill="#4a6a5a"/>
<rect x="102.1" y="10.0" width="6.5" height="3.7" fill="#6a7a70"/>
<rect x="108.8" y="10.0" width="2.5" height="3.7" fill="#4a6a5a"/>
<rect x="111.4" y="10.0" width="7.5" height="3.7" fill="#7c8880"/>
<rect x="120.6" y="10.0" width="4.4" height="3.7" fill="#7c8880"/>
<rect x="126.1" y="10.0" width="6.9" height="3.7" fill="#7c8880"/>
<rect x="133.4" y="10.0" width="8.8" height="3.7" fill="#7c8880"/>
<rect x="144.1" y="10.0" width="8.3" height="3.7" fill="#5a6a60"/>
<rect x="152.4" y="10.0" width="5.2" height="3.7" fill="#7c8880"/>
<rect x="158.2" y="10.0" width="4.7" height="3.7" fill="#4a6a5a"/>
<rect x="164.0" y="10.0" width="2.5" height="3.7" fill="#3a4a50"/>
<rect x="168.0" y="10.0" width="2.9" height="3.7" fill="#5a6a60"/>
<rect x="172.5" y="10.0" width="5.6" height="3.7" fill="#5a6a60"/>
<rect x="178.5" y="10.0" width="5.6" height="3.7" fill="#7c8880"/>
<rect x="184.2" y="10.0" width="8.8" height="3.7" fill="#b8bcc0"/>
<rect x="195.0" y="10.0" width="4.8" height="3.7" fill="#6a7a70"/>
<rect x="199.8" y="10.0" width="7.6" height="3.7" fill="#5a6a60"/>
<rect x="208.2" y="10.0" width="4.8" height="3.7" fill="#6a7a70"/>
<rect x="48.4" y="14.4" width="8.7" height="2.6" fill="#7c8880"/>
<rect x="57.4" y="14.4" width="4.1" height="2.6" fill="#4a6a5a"/>
<rect x="63.4" y="14.4" width="4.7" height="2.6" fill="#5a6a60"/>
<rect x="69.9" y="14.4" width="4.1" height="2.6" fill="#6a7a70"/>
<rect x="74.2" y="14.4" width="7.4" height="2.6" fill="#4a6a5a"/>
<rect x="82.3" y="14.4" width="4.4" height="2.6" fill="#6a7a70"/>
<rect x="88.6" y="14.4" width="3.1" height="2.6" fill="#5a6a60"/>
<rect x="92.8" y="14.4" width="4.9" height="2.6" fill="#7c8880"/>
<rect x="98.3" y="14.4" width="8.5" height="2.6" fill="#98a098"/>
<rect x="107.0" y="14.4" width="7.0" height="2.6" fill="#5a6a60"/>
<rect x="114.3" y="14.4" width="3.0" height="2.6" fill="#7c8880"/>
<rect x="118.8" y="14.4" width="4.5" height="2.6" fill="#6a7a70"/>
<rect x="123.6" y="14.4" width="2.8" height="2.6" fill="#98a098"/>
<rect x="127.5" y="14.4" width="5.1" height="2.6" fill="#7c8880"/>
<rect x="134.1" y="14.4" width="4.7" height="2.6" fill="#5a6a60"/>
<rect x="139.7" y="14.4" width="5.2" height="2.6" fill="#b8bcc0"/>
<rect x="146.9" y="14.4" width="6.6" height="2.6" fill="#4a6a5a"/>
<rect x="154.6" y="14.4" width="7.9" height="2.6" fill="#7c8880"/>
<rect x="164.5" y="14.4" width="6.2" height="2.6" fill="#7c8880"/>
<rect x="171.9" y="14.4" width="7.6" height="2.6" fill="#b8bcc0"/>
<rect x="179.9" y="14.4" width="4.9" height="2.6" fill="#b8bcc0"/>
<rect x="186.5" y="14.4" width="4.4" height="2.6" fill="#6a7a70"/>
<rect x="192.7" y="14.4" width="6.5" height="2.6" fill="#7c8880"/>
<rect x="201.2" y="14.4" width="5.4" height="2.6" fill="#6a7a70"/>
<rect x="208.1" y="14.4" width="4.6" height="2.6" fill="#5a6a60"/>
<rect x="213.2" y="14.4" width="0.5" height="2.6" fill="#7c8880"/>
<rect x="47.3" y="17.4" width="6.0" height="4.2" fill="#7c8880"/>
<rect x="54.5" y="17.4" width="5.7" height="4.2" fill="#5a6a60"/>
<rect x="60.6" y="17.4" width="5.7" height="4.2" fill="#98a098"/>
<rect x="67.9" y="17.4" width="8.1" height="4.2" fill="#5a6a60"/>
<rect x="76.2" y="17.4" width="7.7" height="4.2" fill="#5a6a60"/>
<rect x="85.2" y="17.4" width="6.8" height="4.2" fill="#4a6a5a"/>
<rect x="92.7" y="17.4" width="6.1" height="4.2" fill="#3a4a50"/>
<rect x="99.4" y="17.4" width="5.7" height="4.2" fill="#4a6a5a"/>
<rect x="107.0" y="17.4" width="7.2" height="4.2" fill="#5a6a60"/>
<rect x="115.4" y="17.4" width="6.3" height="4.2" fill="#b8bcc0"/>
<rect x="122.6" y="17.4" width="7.5" height="4.2" fill="#5a6a60"/>
<rect x="131.5" y="17.4" width="5.5" height="4.2" fill="#4a6a5a"/>
<rect x="138.0" y="17.4" width="6.9" height="4.2" fill="#5a6a60"/>
<rect x="145.6" y="17.4" width="6.7" height="4.2" fill="#3a4a50"/>
<rect x="154.2" y="17.4" width="5.2" height="4.2" fill="#4a6a5a"/>
<rect x="159.7" y="17.4" width="8.1" height="4.2" fill="#6a7a70"/>
<rect x="169.8" y="17.4" width="8.7" height="4.2" fill="#98a098"/>
<rect x="178.8" y="17.4" width="8.9" height="4.2" fill="#7c8880"/>
<rect x="189.3" y="17.4" width="8.6" height="4.2" fill="#6a7a70"/>
<rect x="198.5" y="17.4" width="3.0" height="4.2" fill="#3a4a50"/>
<rect x="202.9" y="17.4" width="3.6" height="4.2" fill="#4a6a5a"/>
<rect x="208.4" y="17.4" width="5.8" height="4.2" fill="#6a7a70"/>
<rect x="45.5" y="22.4" width="8.1" height="3.5" fill="#5a6a60"/>
<rect x="55.1" y="22.4" width="2.7" height="3.5" fill="#7c8880"/>
<rect x="59.0" y="22.4" width="6.6" height="3.5" fill="#7c8880"/>
<rect x="66.0" y="22.4" width="7.0" height="3.5" fill="#3a4a50"/>
<rect x="74.4" y="22.4" width="8.9" height="3.5" fill="#7c8880"/>
<rect x="83.6" y="22.4" width="8.3" height="3.5" fill="#b8bcc0"/>
<rect x="92.5" y="22.4" width="3.7" height="3.5" fill="#7c8880"/>
<rect x="97.3" y="22.4" width="5.2" height="3.5" fill="#5a6a60"/>
<rect x="103.3" y="22.4" width="6.5" height="3.5" fill="#98a098"/>
<rect x="110.2" y="22.4" width="7.2" height="3.5" fill="#5a6a60"/>
<rect x="117.3" y="22.4" width="5.1" height="3.5" fill="#5a6a60"/>
<rect x="124.2" y="22.4" width="8.1" height="3.5" fill="#3a4a50"/>
<rect x="134.0" y="22.4" width="4.9" height="3.5" fill="#b8bcc0"/>
<rect x="140.0" y="22.4" width="4.5" height="3.5" fill="#5a6a60"/>
<rect x="145.5" y="22.4" width="4.7" height="3.5" fill="#98a098"/>
<rect x="150.8" y="22.4" width="4.8" height="3.5" fill="#7c8880"/>
<rect x="156.5" y="22.4" width="7.8" height="3.5" fill="#3a4a50"/>
<rect x="165.3" y="22.4" width="5.5" height="3.5" fill="#7c8880"/>
<rect x="172.1" y="22.4" width="6.2" height="3.5" fill="#7c8880"/>
<rect x="180.2" y="22.4" width="6.5" height="3.5" fill="#5a6a60"/>
<rect x="188.3" y="22.4" width="6.8" height="3.5" fill="#6a7a70"/>
<rect x="195.3" y="22.4" width="6.2" height="3.5" fill="#98a098"/>
<rect x="202.5" y="22.4" width="4.6" height="3.5" fill="#98a098"/>
<rect x="207.9" y="22.4" width="5.3" height="3.5" fill="#7c8880"/>
<rect x="214.2" y="22.4" width="0.9" height="3.5" fill="#3a4a50"/>
<rect x="44.0" y="26.5" width="8.4" height="1.2" fill="#98a098"/>
<rect x="53.7" y="26.5" width="7.3" height="1.2" fill="#5a6a60"/>
<rect x="62.0" y="26.5" width="5.2" height="1.2" fill="#5a6a60"/>
<rect x="69.1" y="26.5" width="4.5" height="1.2" fill="#5a6a60"/>
<rect x="73.9" y="26.5" width="2.7" height="1.2" fill="#3a4a50"/>
<rect x="77.8" y="26.5" width="5.4" height="1.2" fill="#5a6a60"/>
<rect x="83.2" y="26.5" width="3.4" height="1.2" fill="#6a7a70"/>
<rect x="86.6" y="26.5" width="6.0" height="1.2" fill="#5a6a60"/>
<rect x="93.1" y="26.5" width="5.6" height="1.2" fill="#b8bcc0"/>
<rect x="99.1" y="26.5" width="4.2" height="1.2" fill="#7c8880"/>
<rect x="104.8" y="26.5" width="4.4" height="1.2" fill="#6a7a70"/>
<rect x="110.4" y="26.5" width="5.6" height="1.2" fill="#3a4a50"/>
<rect x="117.7" y="26.5" width="8.2" height="1.2" fill="#b8bcc0"/>
<rect x="126.0" y="26.5" width="3.3" height="1.2" fill="#5a6a60"/>
<rect x="130.4" y="26.5" width="4.7" height="1.2" fill="#5a6a60"/>
<rect x="136.5" y="26.5" width="2.7" height="1.2" fill="#5a6a60"/>
<rect x="139.9" y="26.5" width="7.3" height="1.2" fill="#98a098"/>
<rect x="147.5" y="26.5" width="2.5" height="1.2" fill="#98a098"/>
<rect x="150.9" y="26.5" width="8.5" height="1.2" fill="#3a4a50"/>
<rect x="160.5" y="26.5" width="2.6" height="1.2" fill="#4a6a5a"/>
<rect x="164.7" y="26.5" width="6.4" height="1.2" fill="#3a4a50"/>
<rect x="172.5" y="26.5" width="6.6" height="1.2" fill="#6a7a70"/>
<rect x="180.8" y="26.5" width="8.0" height="1.2" fill="#6a7a70"/>
<rect x="189.6" y="26.5" width="8.0" height="1.2" fill="#7c8880"/>
<rect x="199.4" y="26.5" width="5.5" height="1.2" fill="#4a6a5a"/>
<rect x="205.1" y="26.5" width="7.9" height="1.2" fill="#3a4a50"/>
<rect x="214.5" y="26.5" width="1.3" height="1.2" fill="#3a4a50"/>
<rect x="38.8" y="41.0" width="3.4" height="4.4" fill="#6a786c"/>
<rect x="43.6" y="41.0" width="8.3" height="4.4" fill="#5a6a5c"/>
<rect x="53.0" y="41.0" width="5.3" height="4.4" fill="#a0a8a0"/>
<rect x="59.9" y="41.0" width="2.9" height="4.4" fill="#808a80"/>
<rect x="63.4" y="41.0" width="3.1" height="4.4" fill="#c0c4c6"/>
<rect x="67.7" y="41.0" width="2.7" height="4.4" fill="#404e50"/>
<rect x="71.3" y="41.0" width="2.9" height="4.4" fill="#6a786c"/>
<rect x="75.6" y="41.0" width="2.8" height="4.4" fill="#5a7a5a"/>
<rect x="78.7" y="41.0" width="6.5" height="4.4" fill="#5a7a5a"/>
<rect x="87.1" y="41.0" width="7.1" height="4.4" fill="#808a80"/>
<rect x="96.2" y="41.0" width="7.1" height="4.4" fill="#6a786c"/>
<rect x="103.6" y="41.0" width="6.5" height="4.4" fill="#6a786c"/>
<rect x="111.7" y="41.0" width="2.9" height="4.4" fill="#808a80"/>
<rect x="114.7" y="41.0" width="3.2" height="4.4" fill="#6a786c"/>
<rect x="119.4" y="41.0" width="4.3" height="4.4" fill="#a0a8a0"/>
<rect x="124.9" y="41.0" width="7.3" height="4.4" fill="#a0a8a0"/>
<rect x="132.4" y="41.0" width="5.3" height="4.4" fill="#5a6a5c"/>
<rect x="139.1" y="41.0" width="5.7" height="4.4" fill="#5a6a5c"/>
<rect x="146.7" y="41.0" width="4.9" height="4.4" fill="#c0c4c6"/>
<rect x="151.9" y="41.0" width="4.4" height="4.4" fill="#a0a8a0"/>
<rect x="157.6" y="41.0" width="5.8" height="4.4" fill="#a0a8a0"/>
<rect x="164.5" y="41.0" width="3.9" height="4.4" fill="#c0c4c6"/>
<rect x="169.5" y="41.0" width="4.2" height="4.4" fill="#5a7a5a"/>
<rect x="174.2" y="41.0" width="8.8" height="4.4" fill="#5a7a5a"/>
<rect x="183.5" y="41.0" width="4.9" height="4.4" fill="#404e50"/>
<rect x="189.2" y="41.0" width="3.4" height="4.4" fill="#c0c4c6"/>
<rect x="193.9" y="41.0" width="3.1" height="4.4" fill="#404e50"/>
<rect x="197.0" y="41.0" width="8.1" height="4.4" fill="#a0a8a0"/>
<rect x="206.3" y="41.0" width="4.1" height="4.4" fill="#6a786c"/>
<rect x="211.3" y="41.0" width="4.6" height="4.4" fill="#5a7a5a"/>
<rect x="217.0" y="41.0" width="1.3" height="4.4" fill="#6a786c"/>
<rect x="36.9" y="46.2" width="8.7" height="2.5" fill="#404e50"/>
<rect x="47.2" y="46.2" width="7.4" height="2.5" fill="#c0c4c6"/>
<rect x="56.5" y="46.2" width="6.8" height="2.5" fill="#5a7a5a"/>
<rect x="63.8" y="46.2" width="7.1" height="2.5" fill="#6a786c"/>
<rect x="71.6" y="46.2" width="4.0" height="2.5" fill="#5a6a5c"/>
<rect x="77.4" y="46.2" width="7.1" height="2.5" fill="#5a7a5a"/>
<rect x="85.3" y="46.2" width="3.4" height="2.5" fill="#5a7a5a"/>
<rect x="89.4" y="46.2" width="4.4" height="2.5" fill="#404e50"/>
<rect x="94.7" y="46.2" width="8.0" height="2.5" fill="#a0a8a0"/>
<rect x="102.8" y="46.2" width="9.0" height="2.5" fill="#808a80"/>
<rect x="113.2" y="46.2" width="5.1" height="2.5" fill="#c0c4c6"/>
<rect x="118.4" y="46.2" width="3.7" height="2.5" fill="#808a80"/>
<rect x="122.2" y="46.2" width="8.3" height="2.5" fill="#6a786c"/>
<rect x="131.8" y="46.2" width="4.8" height="2.5" fill="#6a786c"/>
<rect x="137.5" y="46.2" width="8.3" height="2.5" fill="#a0a8a0"/>
<rect x="147.6" y="46.2" width="4.6" height="2.5" fill="#6a786c"/>
<rect x="152.4" y="46.2" width="3.5" height="2.5" fill="#808a80"/>
<rect x="156.1" y="46.2" width="8.1" height="2.5" fill="#5a7a5a"/>
<rect x="166.0" y="46.2" width="3.5" height="2.5" fill="#5a6a5c"/>
<rect x="169.7" y="46.2" width="7.8" height="2.5" fill="#5a7a5a"/>
<rect x="178.1" y="46.2" width="4.0" height="2.5" fill="#6a786c"/>
<rect x="183.9" y="46.2" width="4.7" height="2.5" fill="#5a7a5a"/>
<rect x="189.4" y="46.2" width="8.6" height="2.5" fill="#404e50"/>
<rect x="198.0" y="46.2" width="5.5" height="2.5" fill="#5a7a5a"/>
<rect x="205.4" y="46.2" width="3.3" height="2.5" fill="#404e50"/>
<rect x="209.3" y="46.2" width="5.5" height="2.5" fill="#808a80"/>
<rect x="216.2" y="46.2" width="3.0" height="2.5" fill="#808a80"/>
<rect x="35.9" y="49.2" width="6.8" height="3.6" fill="#a0a8a0"/>
<rect x="43.4" y="49.2" width="8.8" height="3.6" fill="#5a6a5c"/>
<rect x="53.6" y="49.2" width="3.7" height="3.6" fill="#5a6a5c"/>
<rect x="57.9" y="49.2" width="7.3" height="3.6" fill="#404e50"/>
<rect x="66.1" y="49.2" width="7.5" height="3.6" fill="#808a80"/>
<rect x="75.0" y="49.2" width="8.6" height="3.6" fill="#404e50"/>
<rect x="84.8" y="49.2" width="7.2" height="3.6" fill="#5a6a5c"/>
<rect x="92.1" y="49.2" width="2.9" height="3.6" fill="#5a7a5a"/>
<rect x="96.3" y="49.2" width="3.6" height="3.6" fill="#c0c4c6"/>
<rect x="101.0" y="49.2" width="8.9" height="3.6" fill="#a0a8a0"/>
<rect x="111.1" y="49.2" width="8.6" height="3.6" fill="#404e50"/>
<rect x="119.8" y="49.2" width="8.3" height="3.6" fill="#6a786c"/>
<rect x="128.3" y="49.2" width="5.6" height="3.6" fill="#404e50"/>
<rect x="134.4" y="49.2" width="2.8" height="3.6" fill="#6a786c"/>
<rect x="138.8" y="49.2" width="2.8" height="3.6" fill="#5a7a5a"/>
<rect x="142.4" y="49.2" width="4.5" height="3.6" fill="#c0c4c6"/>
<rect x="148.7" y="49.2" width="8.7" height="3.6" fill="#808a80"/>
<rect x="157.7" y="49.2" width="5.8" height="3.6" fill="#6a786c"/>
<rect x="163.9" y="49.2" width="4.0" height="3.6" fill="#5a6a5c"/>
<rect x="169.5" y="49.2" width="3.1" height="3.6" fill="#808a80"/>
<rect x="173.7" y="49.2" width="8.1" height="3.6" fill="#808a80"/>
<rect x="183.1" y="49.2" width="5.4" height="3.6" fill="#5a6a5c"/>
<rect x="189.4" y="49.2" width="6.2" height="3.6" fill="#6a786c"/>
<rect x="196.7" y="49.2" width="3.4" height="3.6" fill="#c0c4c6"/>
<rect x="201.8" y="49.2" width="4.5" height="3.6" fill="#6a786c"/>
<rect x="208.1" y="49.2" width="9.0" height="3.6" fill="#a0a8a0"/>
<rect x="217.4" y="49.2" width="2.4" height="3.6" fill="#c0c4c6"/>
<rect x="34.4" y="53.4" width="5.1" height="2.8" fill="#808a80"/>
<rect x="39.7" y="53.4" width="3.0" height="2.8" fill="#808a80"/>
<rect x="44.2" y="53.4" width="7.7" height="2.8" fill="#a0a8a0"/>
<rect x="53.2" y="53.4" width="4.3" height="2.8" fill="#6a786c"/>
<rect x="58.9" y="53.4" width="2.8" height="2.8" fill="#808a80"/>
<rect x="63.3" y="53.4" width="8.2" height="2.8" fill="#c0c4c6"/>
<rect x="71.7" y="53.4" width="7.5" height="2.8" fill="#6a786c"/>
<rect x="80.7" y="53.4" width="6.1" height="2.8" fill="#5a6a5c"/>
<rect x="88.1" y="53.4" width="7.4" height="2.8" fill="#a0a8a0"/>
<rect x="95.6" y="53.4" width="3.4" height="2.8" fill="#404e50"/>
<rect x="100.3" y="53.4" width="8.7" height="2.8" fill="#404e50"/>
<rect x="109.1" y="53.4" width="5.3" height="2.8" fill="#c0c4c6"/>
<rect x="116.0" y="53.4" width="5.0" height="2.8" fill="#808a80"/>
<rect x="121.7" y="53.4" width="4.5" height="2.8" fill="#808a80"/>
<rect x="126.7" y="53.4" width="6.9" height="2.8" fill="#5a6a5c"/>
<rect x="133.6" y="53.4" width="6.0" height="2.8" fill="#404e50"/>
<rect x="140.8" y="53.4" width="2.7" height="2.8" fill="#c0c4c6"/>
<rect x="145.4" y="53.4" width="7.9" height="2.8" fill="#6a786c"/>
<rect x="155.0" y="53.4" width="8.7" height="2.8" fill="#a0a8a0"/>
<rect x="163.7" y="53.4" width="5.9" height="2.8" fill="#808a80"/>
<rect x="170.3" y="53.4" width="4.6" height="2.8" fill="#c0c4c6"/>
<rect x="175.3" y="53.4" width="6.5" height="2.8" fill="#808a80"/>
<rect x="183.3" y="53.4" width="3.1" height="2.8" fill="#a0a8a0"/>
<rect x="187.6" y="53.4" width="6.6" height="2.8" fill="#808a80"/>
<rect x="195.1" y="53.4" width="8.6" height="2.8" fill="#5a7a5a"/>
<rect x="204.6" y="53.4" width="4.7" height="2.8" fill="#6a786c"/>
<rect x="211.1" y="53.4" width="5.5" height="2.8" fill="#6a786c"/>
<rect x="216.9" y="53.4" width="2.8" height="2.8" fill="#404e50"/>
<rect x="33.2" y="56.7" width="8.8" height="3.5" fill="#a0a8a0"/>
<rect x="42.0" y="56.7" width="3.3" height="3.5" fill="#5a7a5a"/>
<rect x="46.1" y="56.7" width="2.8" height="3.5" fill="#c0c4c6"/>
<rect x="49.0" y="56.7" width="6.3" height="3.5" fill="#6a786c"/>
<rect x="56.7" y="56.7" width="4.8" height="3.5" fill="#6a786c"/>
<rect x="61.9" y="56.7" width="4.3" height="3.5" fill="#808a80"/>
<rect x="66.8" y="56.7" width="5.9" height="3.5" fill="#5a7a5a"/>
<rect x="74.2" y="56.7" width="4.1" height="3.5" fill="#5a6a5c"/>
<rect x="79.9" y="56.7" width="7.8" height="3.5" fill="#404e50"/>
<rect x="89.4" y="56.7" width="8.0" height="3.5" fill="#a0a8a0"/>
<rect x="98.4" y="56.7" width="4.8" height="3.5" fill="#808a80"/>
<rect x="104.8" y="56.7" width="5.7" height="3.5" fill="#c0c4c6"/>
<rect x="110.7" y="56.7" width="5.1" height="3.5" fill="#5a7a5a"/>
<rect x="117.2" y="56.7" width="8.4" height="3.5" fill="#808a80"/>
<rect x="127.1" y="56.7" width="7.4" height="3.5" fill="#6a786c"/>
<rect x="135.9" y="56.7" width="8.1" height="3.5" fill="#a0a8a0"/>
<rect x="144.2" y="56.7" width="3.8" height="3.5" fill="#404e50"/>
<rect x="148.0" y="56.7" width="5.8" height="3.5" fill="#a0a8a0"/>
<rect x="155.1" y="56.7" width="7.8" height="3.5" fill="#c0c4c6"/>
<rect x="163.5" y="56.7" width="2.7" height="3.5" fill="#5a6a5c"/>
<rect x="167.2" y="56.7" width="5.8" height="3.5" fill="#a0a8a0"/>
<rect x="174.4" y="56.7" width="5.1" height="3.5" fill="#5a7a5a"/>
<rect x="181.1" y="56.7" width="8.5" height="3.5" fill="#404e50"/>
<rect x="190.7" y="56.7" width="2.9" height="3.5" fill="#808a80"/>
<rect x="195.2" y="56.7" width="4.9" height="3.5" fill="#a0a8a0"/>
<rect x="200.1" y="56.7" width="7.5" height="3.5" fill="#808a80"/>
<rect x="208.2" y="56.7" width="3.0" height="3.5" fill="#c0c4c6"/>
<rect x="212.7" y="56.7" width="6.5" height="3.5" fill="#5a7a5a"/>
<rect x="220.7" y="56.7" width="0.3" height="3.5" fill="#5a6a5c"/>
<rect x="31.7" y="60.8" width="8.5" height="2.2" fill="#808a80"/>
<rect x="40.4" y="60.8" width="7.4" height="2.2" fill="#404e50"/>
<rect x="49.7" y="60.8" width="4.5" height="2.2" fill="#5a6a5c"/>
<rect x="55.5" y="60.8" width="7.9" height="2.2" fill="#404e50"/>
<rect x="64.7" y="60.8" width="6.2" height="2.2" fill="#6a786c"/>
<rect x="71.9" y="60.8" width="8.3" height="2.2" fill="#808a80"/>
<rect x="80.9" y="60.8" width="7.6" height="2.2" fill="#6a786c"/>
<rect x="89.3" y="60.8" width="2.5" height="2.2" fill="#6a786c"/>
<rect x="92.6" y="60.8" width="7.4" height="2.2" fill="#a0a8a0"/>
<rect x="101.7" y="60.8" width="8.4" height="2.2" fill="#a0a8a0"/>
<rect x="110.8" y="60.8" width="4.6" height="2.2" fill="#5a7a5a"/>
<rect x="116.8" y="60.8" width="6.1" height="2.2" fill="#404e50"/>
<rect x="124.8" y="60.8" width="4.1" height="2.2" fill="#c0c4c6"/>
<rect x="129.4" y="60.8" width="4.5" height="2.2" fill="#5a6a5c"/>
<rect x="135.5" y="60.8" width="3.0" height="2.2" fill="#808a80"/>
<rect x="138.6" y="60.8" width="5.2" height="2.2" fill="#808a80"/>
<rect x="144.3" y="60.8" width="2.9" height="2.2" fill="#a0a8a0"/>
<rect x="148.4" y="60.8" width="6.7" height="2.2" fill="#a0a8a0"/>
<rect x="156.5" y="60.8" width="5.2" height="2.2" fill="#6a786c"/>
<rect x="162.7" y="60.8" width="6.4" height="2.2" fill="#808a80"/>
<rect x="169.7" y="60.8" width="4.3" height="2.2" fill="#a0a8a0"/>
<rect x="175.8" y="60.8" width="4.6" height="2.2" fill="#6a786c"/>
<rect x="180.5" y="60.8" width="3.3" height="2.2" fill="#a0a8a0"/>
<rect x="184.9" y="60.8" width="6.2" height="2.2" fill="#6a786c"/>
<rect x="191.4" y="60.8" width="6.4" height="2.2" fill="#404e50"/>
<rect x="199.3" y="60.8" width="4.6" height="2.2" fill="#c0c4c6"/>
<rect x="204.1" y="60.8" width="5.7" height="2.2" fill="#5a7a5a"/>
<rect x="210.8" y="60.8" width="3.0" height="2.2" fill="#808a80"/>
<rect x="215.5" y="60.8" width="6.2" height="2.2" fill="#808a80"/>
<rect x="30.8" y="63.3" width="7.7" height="2.3" fill="#5a7a5a"/>
<rect x="38.7" y="63.3" width="3.8" height="2.3" fill="#808a80"/>
<rect x="42.6" y="63.3" width="4.7" height="2.3" fill="#5a6a5c"/>
<rect x="48.6" y="63.3" width="3.2" height="2.3" fill="#5a7a5a"/>
<rect x="52.6" y="63.3" width="4.6" height="2.3" fill="#5a7a5a"/>
<rect x="58.8" y="63.3" width="7.1" height="2.3" fill="#a0a8a0"/>
<rect x="67.9" y="63.3" width="6.6" height="2.3" fill="#5a7a5a"/>
<rect x="74.6" y="63.3" width="3.2" height="2.3" fill="#c0c4c6"/>
<rect x="78.2" y="63.3" width="4.6" height="2.3" fill="#808a80"/>
<rect x="83.7" y="63.3" width="6.9" height="2.3" fill="#404e50"/>
<rect x="92.2" y="63.3" width="4.1" height="2.3" fill="#a0a8a0"/>
<rect x="97.2" y="63.3" width="2.5" height="2.3" fill="#a0a8a0"/>
<rect x="101.7" y="63.3" width="3.4" height="2.3" fill="#c0c4c6"/>
<rect x="106.0" y="63.3" width="8.8" height="2.3" fill="#404e50"/>
<rect x="114.9" y="63.3" width="7.4" height="2.3" fill="#404e50"/>
<rect x="123.8" y="63.3" width="2.6" height="2.3" fill="#5a7a5a"/>
<rect x="127.4" y="63.3" width="4.8" height="2.3" fill="#404e50"/>
<rect x="132.6" y="63.3" width="4.7" height="2.3" fill="#808a80"/>
<rect x="137.9" y="63.3" width="5.7" height="2.3" fill="#404e50"/>
<rect x="145.1" y="63.3" width="3.1" height="2.3" fill="#c0c4c6"/>
<rect x="148.8" y="63.3" width="4.7" height="2.3" fill="#5a7a5a"/>
<rect x="153.6" y="63.3" width="5.3" height="2.3" fill="#808a80"/>
<rect x="159.8" y="63.3" width="4.0" height="2.3" fill="#404e50"/>
<rect x="165.3" y="63.3" width="3.4" height="2.3" fill="#c0c4c6"/>
<rect x="169.8" y="63.3" width="5.3" height="2.3" fill="#808a80"/>
<rect x="176.2" y="63.3" width="5.0" height="2.3" fill="#808a80"/>
<rect x="181.4" y="63.3" width="4.8" height="2.3" fill="#5a7a5a"/>
<rect x="186.4" y="63.3" width="7.8" height="2.3" fill="#808a80"/>
<rect x="194.9" y="63.3" width="2.6" height="2.3" fill="#5a6a5c"/>
<rect x="198.7" y="63.3" width="8.7" height="2.3" fill="#5a7a5a"/>
<rect x="208.4" y="63.3" width="2.8" height="2.3" fill="#808a80"/>
<rect x="211.6" y="63.3" width="7.7" height="2.3" fill="#c0c4c6"/>
<rect x="220.3" y="63.3" width="1.8" height="2.3" fill="#5a6a5c"/>
<rect x="23.7" y="83.0" width="5.6" height="4.3" fill="#a8b0a8"/>
<rect x="29.4" y="83.0" width="5.1" height="4.3" fill="#4e6a4e"/>
<rect x="35.4" y="83.0" width="8.1" height="4.3" fill="#3a4840"/>
<rect x="44.8" y="83.0" width="6.6" height="4.3" fill="#a8b0a8"/>
<rect x="51.9" y="83.0" width="5.2" height="4.3" fill="#3a4840"/>
<rect x="57.9" y="83.0" width="8.2" height="4.3" fill="#4e6a4e"/>
<rect x="67.0" y="83.0" width="8.3" height="4.3" fill="#a8b0a8"/>
<rect x="77.3" y="83.0" width="7.4" height="4.3" fill="#c8ccc8"/>
<rect x="85.0" y="83.0" width="7.6" height="4.3" fill="#5e6e60"/>
<rect x="94.3" y="83.0" width="3.0" height="4.3" fill="#c8ccc8"/>
<rect x="97.7" y="83.0" width="5.2" height="4.3" fill="#c8ccc8"/>
<rect x="103.2" y="83.0" width="4.9" height="4.3" fill="#a8b0a8"/>
<rect x="109.4" y="83.0" width="3.3" height="4.3" fill="#707c70"/>
<rect x="114.2" y="83.0" width="3.0" height="4.3" fill="#3a4840"/>
<rect x="118.0" y="83.0" width="8.3" height="4.3" fill="#707c70"/>
<rect x="126.7" y="83.0" width="2.6" height="4.3" fill="#4e6a4e"/>
<rect x="130.3" y="83.0" width="4.6" height="4.3" fill="#5e6e60"/>
<rect x="135.2" y="83.0" width="4.0" height="4.3" fill="#c8ccc8"/>
<rect x="141.1" y="83.0" width="2.7" height="4.3" fill="#707c70"/>
<rect x="145.4" y="83.0" width="3.1" height="4.3" fill="#707c70"/>
<rect x="150.0" y="83.0" width="4.9" height="4.3" fill="#4e6a4e"/>
<rect x="155.3" y="83.0" width="4.4" height="4.3" fill="#3a4840"/>
<rect x="160.8" y="83.0" width="4.3" height="4.3" fill="#a8b0a8"/>
<rect x="166.5" y="83.0" width="4.9" height="4.3" fill="#c8ccc8"/>
<rect x="173.2" y="83.0" width="6.1" height="4.3" fill="#5e6e60"/>
<rect x="181.2" y="83.0" width="4.1" height="4.3" fill="#8a968a"/>
<rect x="185.6" y="83.0" width="2.6" height="4.3" fill="#a8b0a8"/>
<rect x="189.6" y="83.0" width="3.4" height="4.3" fill="#5e6e60"/>
<rect x="194.3" y="83.0" width="2.9" height="4.3" fill="#a8b0a8"/>
<rect x="198.7" y="83.0" width="5.2" height="4.3" fill="#8a968a"/>
<rect x="205.4" y="83.0" width="4.0" height="4.3" fill="#c8ccc8"/>
<rect x="209.5" y="83.0" width="5.8" height="4.3" fill="#a8b0a8"/>
<rect x="216.7" y="83.0" width="8.2" height="4.3" fill="#4e6a4e"/>
<rect x="225.0" y="83.0" width="0.5" height="4.3" fill="#5e6e60"/>
<rect x="21.9" y="88.0" width="8.4" height="2.4" fill="#8a968a"/>
<rect x="31.3" y="88.0" width="7.1" height="2.4" fill="#8a968a"/>
<rect x="40.4" y="88.0" width="8.9" height="2.4" fill="#c8ccc8"/>
<rect x="51.0" y="88.0" width="6.3" height="2.4" fill="#3a4840"/>
<rect x="57.5" y="88.0" width="5.4" height="2.4" fill="#3a4840"/>
<rect x="63.3" y="88.0" width="6.5" height="2.4" fill="#a8b0a8"/>
<rect x="71.7" y="88.0" width="4.4" height="2.4" fill="#8a968a"/>
<rect x="76.9" y="88.0" width="5.2" height="2.4" fill="#5e6e60"/>
<rect x="82.7" y="88.0" width="5.7" height="2.4" fill="#8a968a"/>
<rect x="89.6" y="88.0" width="6.2" height="2.4" fill="#a8b0a8"/>
<rect x="95.9" y="88.0" width="3.1" height="2.4" fill="#c8ccc8"/>
<rect x="100.7" y="88.0" width="4.9" height="2.4" fill="#c8ccc8"/>
<rect x="106.2" y="88.0" width="4.3" height="2.4" fill="#4e6a4e"/>
<rect x="110.8" y="88.0" width="3.3" height="2.4" fill="#c8ccc8"/>
<rect x="115.7" y="88.0" width="6.6" height="2.4" fill="#5e6e60"/>
<rect x="122.6" y="88.0" width="7.6" height="2.4" fill="#3a4840"/>
<rect x="130.8" y="88.0" width="8.2" height="2.4" fill="#5e6e60"/>
<rect x="140.8" y="88.0" width="7.9" height="2.4" fill="#8a968a"/>
<rect x="149.0" y="88.0" width="2.8" height="2.4" fill="#3a4840"/>
<rect x="152.6" y="88.0" width="3.3" height="2.4" fill="#5e6e60"/>
<rect x="156.0" y="88.0" width="7.9" height="2.4" fill="#5e6e60"/>
<rect x="165.2" y="88.0" width="6.7" height="2.4" fill="#a8b0a8"/>
<rect x="173.1" y="88.0" width="3.3" height="2.4" fill="#3a4840"/>
<rect x="177.4" y="88.0" width="5.4" height="2.4" fill="#8a968a"/>
<rect x="183.2" y="88.0" width="8.7" height="2.4" fill="#a8b0a8"/>
<rect x="193.3" y="88.0" width="7.2" height="2.4" fill="#8a968a"/>
<rect x="200.7" y="88.0" width="2.9" height="2.4" fill="#5e6e60"/>
<rect x="204.2" y="88.0" width="5.9" height="2.4" fill="#8a968a"/>
<rect x="211.6" y="88.0" width="3.0" height="2.4" fill="#3a4840"/>
<rect x="215.9" y="88.0" width="4.3" height="2.4" fill="#5e6e60"/>
<rect x="221.7" y="88.0" width="4.2" height="2.4" fill="#c8ccc8"/>
<rect x="20.9" y="90.9" width="4.6" height="4.4" fill="#3a4840"/>
<rect x="27.3" y="90.9" width="5.5" height="4.4" fill="#707c70"/>
<rect x="34.1" y="90.9" width="8.6" height="4.4" fill="#c8ccc8"/>
<rect x="44.6" y="90.9" width="3.8" height="4.4" fill="#a8b0a8"/>
<rect x="48.8" y="90.9" width="9.0" height="4.4" fill="#3a4840"/>
<rect x="58.6" y="90.9" width="6.5" height="4.4" fill="#3a4840"/>
<rect x="65.9" y="90.9" width="3.8" height="4.4" fill="#5e6e60"/>
<rect x="70.0" y="90.9" width="5.8" height="4.4" fill="#8a968a"/>
<rect x="76.5" y="90.9" width="2.6" height="4.4" fill="#5e6e60"/>
<rect x="79.6" y="90.9" width="5.7" height="4.4" fill="#8a968a"/>
<rect x="87.2" y="90.9" width="3.9" height="4.4" fill="#707c70"/>
<rect x="92.5" y="90.9" width="5.2" height="4.4" fill="#4e6a4e"/>
<rect x="98.2" y="90.9" width="4.5" height="4.4" fill="#8a968a"/>
<rect x="102.9" y="90.9" width="4.2" height="4.4" fill="#c8ccc8"/>
<rect x="108.8" y="90.9" width="5.9" height="4.4" fill="#5e6e60"/>
<rect x="115.9" y="90.9" width="6.7" height="4.4" fill="#4e6a4e"/>
<rect x="122.8" y="90.9" width="7.5" height="4.4" fill="#c8ccc8"/>
<rect x="130.5" y="90.9" width="8.2" height="4.4" fill="#c8ccc8"/>
<rect x="140.4" y="90.9" width="6.3" height="4.4" fill="#a8b0a8"/>
<rect x="148.2" y="90.9" width="6.0" height="4.4" fill="#707c70"/>
<rect x="155.5" y="90.9" width="7.2" height="4.4" fill="#c8ccc8"/>
<rect x="162.9" y="90.9" width="8.1" height="4.4" fill="#a8b0a8"/>
<rect x="171.6" y="90.9" width="4.4" height="4.4" fill="#c8ccc8"/>
<rect x="176.8" y="90.9" width="8.2" height="4.4" fill="#a8b0a8"/>
<rect x="185.1" y="90.9" width="2.9" height="4.4" fill="#a8b0a8"/>
<rect x="190.0" y="90.9" width="7.6" height="4.4" fill="#8a968a"/>
<rect x="198.4" y="90.9" width="5.5" height="4.4" fill="#a8b0a8"/>
<rect x="204.4" y="90.9" width="2.7" height="4.4" fill="#8a968a"/>
<rect x="208.1" y="90.9" width="6.7" height="4.4" fill="#3a4840"/>
<rect x="215.9" y="90.9" width="8.6" height="4.4" fill="#a8b0a8"/>
<rect x="225.4" y="90.9" width="1.5" height="4.4" fill="#4e6a4e"/>
<rect x="19.0" y="96.0" width="3.1" height="3.7" fill="#3a4840"/>
<rect x="24.1" y="96.0" width="6.0" height="3.7" fill="#5e6e60"/>
<rect x="30.4" y="96.0" width="4.5" height="3.7" fill="#5e6e60"/>
<rect x="36.8" y="96.0" width="5.3" height="3.7" fill="#707c70"/>
<rect x="43.8" y="96.0" width="8.9" height="3.7" fill="#707c70"/>
<rect x="53.5" y="96.0" width="6.6" height="3.7" fill="#707c70"/>
<rect x="60.7" y="96.0" width="7.8" height="3.7" fill="#8a968a"/>
<rect x="68.7" y="96.0" width="4.5" height="3.7" fill="#4e6a4e"/>
<rect x="75.0" y="96.0" width="5.5" height="3.7" fill="#5e6e60"/>
<rect x="81.7" y="96.0" width="7.7" height="3.7" fill="#3a4840"/>
<rect x="90.3" y="96.0" width="4.3" height="3.7" fill="#3a4840"/>
<rect x="96.0" y="96.0" width="5.5" height="3.7" fill="#5e6e60"/>
<rect x="102.9" y="96.0" width="6.4" height="3.7" fill="#707c70"/>
<rect x="110.6" y="96.0" width="5.5" height="3.7" fill="#3a4840"/>
<rect x="117.6" y="96.0" width="5.4" height="3.7" fill="#707c70"/>
<rect x="123.2" y="96.0" width="3.6" height="3.7" fill="#a8b0a8"/>
<rect x="128.3" y="96.0" width="4.2" height="3.7" fill="#5e6e60"/>
<rect x="134.1" y="96.0" width="3.6" height="3.7" fill="#3a4840"/>
<rect x="138.7" y="96.0" width="4.4" height="3.7" fill="#c8ccc8"/>
<rect x="144.4" y="96.0" width="7.0" height="3.7" fill="#8a968a"/>
<rect x="152.8" y="96.0" width="3.3" height="3.7" fill="#4e6a4e"/>
<rect x="156.2" y="96.0" width="6.3" height="3.7" fill="#5e6e60"/>
<rect x="163.7" y="96.0" width="5.7" height="3.7" fill="#4e6a4e"/>
<rect x="170.4" y="96.0" width="6.4" height="3.7" fill="#8a968a"/>
<rect x="177.5" y="96.0" width="8.2" height="3.7" fill="#707c70"/>
<rect x="186.8" y="96.0" width="4.4" height="3.7" fill="#c8ccc8"/>
<rect x="193.1" y="96.0" width="3.3" height="3.7" fill="#3a4840"/>
<rect x="196.9" y="96.0" width="8.7" height="3.7" fill="#a8b0a8"/>
<rect x="205.5" y="96.0" width="8.6" height="3.7" fill="#c8ccc8"/>
<rect x="216.1" y="96.0" width="5.2" height="3.7" fill="#c8ccc8"/>
<rect x="222.2" y="96.0" width="5.6" height="3.7" fill="#3a4840"/>
<rect x="17.4" y="100.4" width="5.9" height="4.5" fill="#c8ccc8"/>
<rect x="24.8" y="100.4" width="6.5" height="4.5" fill="#4e6a4e"/>
<rect x="31.3" y="100.4" width="6.2" height="4.5" fill="#3a4840"/>
<rect x="37.5" y="100.4" width="7.6" height="4.5" fill="#4e6a4e"/>
<rect x="46.1" y="100.4" width="4.9" height="4.5" fill="#707c70"/>
<rect x="52.1" y="100.4" width="5.6" height="4.5" fill="#a8b0a8"/>
<rect x="59.2" y="100.4" width="3.6" height="4.5" fill="#707c70"/>
<rect x="64.5" y="100.4" width="4.0" height="4.5" fill="#4e6a4e"/>
<rect x="69.3" y="100.4" width="3.2" height="4.5" fill="#5e6e60"/>
<rect x="73.8" y="100.4" width="4.0" height="4.5" fill="#c8ccc8"/>
<rect x="79.6" y="100.4" width="3.8" height="4.5" fill="#707c70"/>
<rect x="84.6" y="100.4" width="7.3" height="4.5" fill="#8a968a"/>
<rect x="92.7" y="100.4" width="6.3" height="4.5" fill="#707c70"/>
<rect x="100.5" y="100.4" width="4.9" height="4.5" fill="#8a968a"/>
<rect x="106.5" y="100.4" width="7.7" height="4.5" fill="#4e6a4e"/>
<rect x="115.6" y="100.4" width="2.9" height="4.5" fill="#c8ccc8"/>
<rect x="119.5" y="100.4" width="2.5" height="4.5" fill="#5e6e60"/>
<rect x="122.2" y="100.4" width="2.6" height="4.5" fill="#4e6a4e"/>
<rect x="125.1" y="100.4" width="3.6" height="4.5" fill="#5e6e60"/>
<rect x="130.6" y="100.4" width="5.6" height="4.5" fill="#c8ccc8"/>
<rect x="137.2" y="100.4" width="2.7" height="4.5" fill="#4e6a4e"/>
<rect x="141.2" y="100.4" width="6.5" height="4.5" fill="#5e6e60"/>
<rect x="149.4" y="100.4" width="6.5" height="4.5" fill="#3a4840"/>
<rect x="157.7" y="100.4" width="8.0" height="4.5" fill="#707c70"/>
<rect x="165.8" y="100.4" width="8.2" height="4.5" fill="#8a968a"/>
<rect x="174.4" y="100.4" width="2.9" height="4.5" fill="#c8ccc8"/>
<rect x="177.7" y="100.4" width="6.0" height="4.5" fill="#a8b0a8"/>
<rect x="184.1" y="100.4" width="5.1" height="4.5" fill="#a8b0a8"/>
<rect x="190.0" y="100.4" width="4.5" height="4.5" fill="#3a4840"/>
<rect x="196.2" y="100.4" width="5.0" height="4.5" fill="#4e6a4e"/>
<rect x="203.1" y="100.4" width="8.3" height="4.5" fill="#3a4840"/>
<rect x="211.8" y="100.4" width="3.4" height="4.5" fill="#5e6e60"/>
<rect x="215.5" y="100.4" width="8.7" height="4.5" fill="#c8ccc8"/>
<rect x="225.1" y="100.4" width="3.3" height="4.5" fill="#3a4840"/>
<rect x="15.5" y="105.6" width="4.2" height="4.3" fill="#a8b0a8"/>
<rect x="21.5" y="105.6" width="8.5" height="4.3" fill="#4e6a4e"/>
<rect x="31.6" y="105.6" width="7.9" height="4.3" fill="#3a4840"/>
<rect x="40.6" y="105.6" width="7.9" height="4.3" fill="#3a4840"/>
<rect x="49.3" y="105.6" width="3.7" height="4.3" fill="#c8ccc8"/>
<rect x="54.2" y="105.6" width="7.2" height="4.3" fill="#4e6a4e"/>
<rect x="62.9" y="105.6" width="3.7" height="4.3" fill="#8a968a"/>
<rect x="68.6" y="105.6" width="3.5" height="4.3" fill="#3a4840"/>
<rect x="72.4" y="105.6" width="6.4" height="4.3" fill="#c8ccc8"/>
<rect x="80.4" y="105.6" width="6.6" height="4.3" fill="#707c70"/>
<rect x="87.0" y="105.6" width="3.5" height="4.3" fill="#5e6e60"/>
<rect x="92.4" y="105.6" width="7.3" height="4.3" fill="#3a4840"/>
<rect x="100.8" y="105.6" width="8.7" height="4.3" fill="#4e6a4e"/>
<rect x="111.3" y="105.6" width="7.2" height="4.3" fill="#a8b0a8"/>
<rect x="119.5" y="105.6" width="4.9" height="4.3" fill="#a8b0a8"/>
<rect x="125.9" y="105.6" width="4.9" height="4.3" fill="#5e6e60"/>
<rect x="131.3" y="105.6" width="6.2" height="4.3" fill="#c8ccc8"/>
<rect x="138.7" y="105.6" width="6.0" height="4.3" fill="#707c70"/>
<rect x="145.5" y="105.6" width="6.1" height="4.3" fill="#4e6a4e"/>
<rect x="151.7" y="105.6" width="5.6" height="4.3" fill="#a8b0a8"/>
<rect x="158.9" y="105.6" width="3.0" height="4.3" fill="#8a968a"/>
<rect x="162.9" y="105.6" width="3.0" height="4.3" fill="#3a4840"/>
<rect x="167.1" y="105.6" width="3.1" height="4.3" fill="#3a4840"/>
<rect x="170.8" y="105.6" width="3.6" height="4.3" fill="#c8ccc8"/>
<rect x="176.2" y="105.6" width="7.6" height="4.3" fill="#c8ccc8"/>
<rect x="185.0" y="105.6" width="7.6" height="4.3" fill="#8a968a"/>
<rect x="194.4" y="105.6" width="7.5" height="4.3" fill="#4e6a4e"/>
<rect x="203.7" y="105.6" width="6.6" height="4.3" fill="#a8b0a8"/>
<rect x="211.3" y="105.6" width="8.2" height="4.3" fill="#707c70"/>
<rect x="220.4" y="105.6" width="3.5" height="4.3" fill="#c8ccc8"/>
<rect x="225.1" y="105.6" width="4.3" height="4.3" fill="#3a4840"/>
<rect x="13.7" y="110.6" width="7.9" height="4.4" fill="#8a968a"/>
<rect x="22.2" y="110.6" width="8.6" height="4.4" fill="#c8ccc8"/>
<rect x="31.6" y="110.6" width="3.5" height="4.4" fill="#3a4840"/>
<rect x="37.1" y="110.6" width="3.1" height="4.4" fill="#c8ccc8"/>
<rect x="41.9" y="110.6" width="4.8" height="4.4" fill="#a8b0a8"/>
<rect x="47.6" y="110.6" width="3.1" height="4.4" fill="#4e6a4e"/>
<rect x="51.7" y="110.6" width="2.7" height="4.4" fill="#5e6e60"/>
<rect x="55.9" y="110.6" width="8.5" height="4.4" fill="#8a968a"/>
<rect x="64.9" y="110.6" width="4.4" height="4.4" fill="#c8ccc8"/>
<rect x="70.2" y="110.6" width="8.3" height="4.4" fill="#8a968a"/>
<rect x="79.1" y="110.6" width="5.8" height="4.4" fill="#4e6a4e"/>
<rect x="85.9" y="110.6" width="8.2" height="4.4" fill="#5e6e60"/>
<rect x="95.5" y="110.6" width="6.5" height="4.4" fill="#5e6e60"/>
<rect x="103.9" y="110.6" width="3.3" height="4.4" fill="#a8b0a8"/>
<rect x="108.0" y="110.6" width="8.2" height="4.4" fill="#c8ccc8"/>
<rect x="117.8" y="110.6" width="5.2" height="4.4" fill="#8a968a"/>
<rect x="123.3" y="110.6" width="2.6" height="4.4" fill="#707c70"/>
<rect x="127.3" y="110.6" width="2.8" height="4.4" fill="#a8b0a8"/>
<rect x="131.3" y="110.6" width="7.0" height="4.4" fill="#a8b0a8"/>
<rect x="138.4" y="110.6" width="3.0" height="4.4" fill="#3a4840"/>
<rect x="142.1" y="110.6" width="5.3" height="4.4" fill="#707c70"/>
<rect x="147.4" y="110.6" width="5.5" height="4.4" fill="#707c70"/>
<rect x="154.3" y="110.6" width="5.9" height="4.4" fill="#8a968a"/>
<rect x="161.4" y="110.6" width="5.1" height="4.4" fill="#5e6e60"/>
<rect x="167.7" y="110.6" width="8.0" height="4.4" fill="#707c70"/>
<rect x="176.4" y="110.6" width="9.0" height="4.4" fill="#4e6a4e"/>
<rect x="186.6" y="110.6" width="3.2" height="4.4" fill="#c8ccc8"/>
<rect x="190.6" y="110.6" width="7.6" height="4.4" fill="#3a4840"/>
<rect x="200.1" y="110.6" width="5.0" height="4.4" fill="#4e6a4e"/>
<rect x="206.0" y="110.6" width="4.2" height="4.4" fill="#707c70"/>
<rect x="211.7" y="110.6" width="7.2" height="4.4" fill="#5e6e60"/>
<rect x="219.7" y="110.6" width="3.7" height="4.4" fill="#5e6e60"/>
<rect x="223.4" y="110.6" width="6.9" height="4.4" fill="#c8ccc8"/>
<rect x="11.9" y="115.8" width="5.3" height="0.2" fill="#8a968a"/>
<rect x="18.3" y="115.8" width="3.3" height="0.2" fill="#5e6e60"/>
<rect x="21.6" y="115.8" width="7.8" height="0.2" fill="#3a4840"/>
<rect x="30.2" y="115.8" width="7.0" height="0.2" fill="#8a968a"/>
<rect x="38.6" y="115.8" width="2.7" height="0.2" fill="#a8b0a8"/>
<rect x="42.8" y="115.8" width="4.5" height="0.2" fill="#c8ccc8"/>
<rect x="48.0" y="115.8" width="4.8" height="0.2" fill="#4e6a4e"/>
<rect x="54.6" y="115.8" width="2.8" height="0.2" fill="#5e6e60"/>
<rect x="57.4" y="115.8" width="5.6" height="0.2" fill="#707c70"/>
<rect x="63.1" y="115.8" width="4.0" height="0.2" fill="#c8ccc8"/>
<rect x="68.7" y="115.8" width="3.9" height="0.2" fill="#5e6e60"/>
<rect x="72.6" y="115.8" width="7.0" height="0.2" fill="#4e6a4e"/>
<rect x="80.1" y="115.8" width="8.9" height="0.2" fill="#c8ccc8"/>
<rect x="89.2" y="115.8" width="8.3" height="0.2" fill="#3a4840"/>
<rect x="97.8" y="115.8" width="9.0" height="0.2" fill="#3a4840"/>
<rect x="107.9" y="115.8" width="8.5" height="0.2" fill="#c8ccc8"/>
<rect x="117.9" y="115.8" width="4.2" height="0.2" fill="#707c70"/>
<rect x="123.7" y="115.8" width="4.5" height="0.2" fill="#5e6e60"/>
<rect x="128.5" y="115.8" width="7.2" height="0.2" fill="#5e6e60"/>
<rect x="137.4" y="115.8" width="7.5" height="0.2" fill="#5e6e60"/>
<rect x="146.5" y="115.8" width="8.0" height="0.2" fill="#3a4840"/>
<rect x="156.1" y="115.8" width="7.4" height="0.2" fill="#8a968a"/>
<rect x="163.9" y="115.8" width="6.8" height="0.2" fill="#a8b0a8"/>
<rect x="171.3" y="115.8" width="2.7" height="0.2" fill="#c8ccc8"/>
<rect x="174.0" y="115.8" width="3.5" height="0.2" fill="#3a4840"/>
<rect x="177.7" y="115.8" width="4.1" height="0.2" fill="#c8ccc8"/>
<rect x="182.3" y="115.8" width="6.5" height="0.2" fill="#a8b0a8"/>
<rect x="190.4" y="115.8" width="7.3" height="0.2" fill="#8a968a"/>
<rect x="199.7" y="115.8" width="5.9" height="0.2" fill="#c8ccc8"/>
<rect x="206.2" y="115.8" width="6.6" height="0.2" fill="#4e6a4e"/>
<rect x="214.5" y="115.8" width="6.3" height="0.2" fill="#5e6e60"/>
<rect x="221.1" y="115.8" width="2.6" height="0.2" fill="#8a968a"/>
<rect x="224.0" y="115.8" width="7.1" height="0.2" fill="#8a968a"/>
<path d="M100 28.5 L160 28.5 L162 41 L97 41 Z" fill="#86ae5a"/>
<rect x="112" y="31" width="6" height="3" fill="#e04a30"/><rect x="104" y="31" width="6" height="3" fill="#3a6aa0"/>
<path d="M70 66 L190 66 L193 70 L68 70 Z" fill="#6e9a5a"/>
<path d="M62 76 L196 76 L199 83 L58 83 Z" fill="#7a9a62"/>
<circle cx="83.0" cy="70.5" r="1.6" fill="#151515"/>
<circle cx="90.2" cy="70.5" r="1.6" fill="#151515"/>
<circle cx="97.4" cy="70.5" r="1.6" fill="#151515"/>
<circle cx="104.6" cy="70.5" r="1.6" fill="#151515"/>
<circle cx="111.8" cy="70.5" r="1.6" fill="#151515"/>
<circle cx="119.0" cy="70.5" r="1.6" fill="#151515"/>
<circle cx="126.2" cy="70.5" r="1.6" fill="#151515"/>
<circle cx="133.4" cy="70.5" r="1.6" fill="#151515"/>
<circle cx="140.6" cy="70.5" r="1.6" fill="#151515"/>
<circle cx="147.8" cy="70.5" r="1.6" fill="#151515"/>
<circle cx="155.0" cy="70.5" r="1.6" fill="#151515"/>
<circle cx="162.2" cy="70.5" r="1.6" fill="#151515"/>
<path d="M25 115.5 L215 115.5 L218 121.5 L20 121.5 Z" fill="#a4aaae"/>
<path d="M79 41 L85 41 L50 136 L42 136 Z" fill="#1e2a30"/>
<path d="M60 10 L76 10 L40 110 L18 110 Z" fill="#5a6878" opacity="0.8"/>
<rect x="48" y="5" width="13" height="3.5" rx="1" fill="#1a1030"/>
<rect x="90" y="14" width="13" height="3.5" rx="1" fill="#1a1030"/>
<rect x="160" y="20" width="13" height="3.5" rx="1" fill="#1a1030"/>
<rect x="106" y="54" width="13" height="3.5" rx="1" fill="#1a1030"/>
<rect x="170" y="50" width="13" height="3.5" rx="1" fill="#1a1030"/>
<rect x="93" y="62" width="13" height="3.5" rx="1" fill="#1a1030"/>
<rect x="120" y="88" width="13" height="3.5" rx="1" fill="#1a1030"/>
<rect x="165" y="60" width="13" height="3.5" rx="1" fill="#1a1030"/>
<rect x="25" y="38" width="13" height="3.5" rx="1" fill="#1a1030"/>
<rect x="37" y="15" width="5" height="4" rx="1" fill="#d03030"/>
<rect x="123" y="47" width="5" height="4" rx="1" fill="#d03030"/>
<rect x="157" y="75" width="5" height="4" rx="1" fill="#d03030"/>
<rect x="108" y="40" width="5" height="4" rx="1" fill="#d03030"/>
<path d="M0 0 L62 0 L40 40 L12 139.5 L0 139.5 Z" fill="#0a1a48" opacity="0.85"/>
<path d="M0 0 L45 0 L25 50 L0 60 Z" fill="#0a1a48" opacity="0.7"/>
<rect x="1" y="57" width="58" height="3.6" fill="#1c4ca8" opacity="0.9"/>
<rect x="1" y="62" width="58" height="3.6" fill="#2a3a70" opacity="0.9"/>
<rect x="1" y="66.5" width="58" height="3.6" fill="#1c4ca8" opacity="0.9"/>
<rect x="1" y="71" width="58" height="3.6" fill="#2a3a70" opacity="0.9"/>
<rect x="1" y="75.5" width="58" height="3.6" fill="#1c4ca8" opacity="0.9"/>
<rect x="1" y="80" width="58" height="3.6" fill="#2a3a70" opacity="0.9"/>
<g fill="#3a86d8"><ellipse cx="13" cy="15" rx="7" ry="2.2"/><ellipse cx="36" cy="15" rx="7" ry="2.2"/><ellipse cx="13" cy="26" rx="7" ry="2.2"/><ellipse cx="36" cy="26" rx="7" ry="2.2"/></g>
<g fill="#2a6ac0" opacity="0.9"><rect x="3" y="7" width="45" height="1.5"/><rect x="3" y="34" width="50" height="2"/><rect x="3" y="88" width="45" height="2"/></g>
<rect x="4" y="96.0" width="15.7" height="1.4" fill="#3a9aa8"/>
<rect x="6" y="99.0" width="22.5" height="1" fill="#9aa860" opacity="0.8"/>
<rect x="4" y="102.5" width="22.6" height="1.4" fill="#3a9aa8"/>
<rect x="6" y="105.5" width="27.0" height="1" fill="#9aa860" opacity="0.8"/>
<rect x="4" y="109.0" width="16.5" height="1.4" fill="#3a9aa8"/>
<rect x="6" y="112.0" width="28.8" height="1" fill="#9aa860" opacity="0.8"/>
<rect x="4" y="115.5" width="15.3" height="1.4" fill="#3a9aa8"/>
<rect x="6" y="118.5" width="31.1" height="1" fill="#9aa860" opacity="0.8"/>
<rect x="4" y="122.0" width="13.9" height="1.4" fill="#3a9aa8"/>
<rect x="6" y="125.0" width="27.1" height="1" fill="#9aa860" opacity="0.8"/>
<rect x="4" y="128.5" width="23.3" height="1.4" fill="#3a9aa8"/>
<rect x="6" y="131.5" width="28.8" height="1" fill="#9aa860" opacity="0.8"/>
<path d="M205 0 L276.0 0 L276.0 139.5 L238 139.5 L232 70 L213 20 Z" fill="#0a1a48" opacity="0.85"/>
<path d="M200 60 L240 58 L262 100 L230 104 Z" fill="#4a5a78" opacity="0.6"/>
<path d="M180 12 L205 12 L212 22 L185 22 Z" fill="#5ab0c0" opacity="0.8"/>
<circle cx="229" cy="27" r="8" fill="none" stroke="#3048d0" stroke-width="2.6"/>
<path d="M229 19 A8 8 0 0 1 236.5 24" fill="none" stroke="#e04848" stroke-width="2.6"/>
<circle cx="229" cy="46" r="6" fill="#122a62"/>
<rect x="240" y="18.0" width="2" height="2" fill="#e04040"/><rect x="244" y="18.4" width="9" height="1.2" fill="#c8d0e0" opacity="0.6"/>
<rect x="240" y="22.0" width="2" height="2" fill="#3050d0"/><rect x="244" y="22.4" width="9" height="1.2" fill="#c8d0e0" opacity="0.6"/>
<rect x="240" y="26.0" width="2" height="2" fill="#3090d0"/><rect x="244" y="26.4" width="9" height="1.2" fill="#c8d0e0" opacity="0.6"/>
<rect x="240" y="30.0" width="2" height="2" fill="#e8e040"/><rect x="244" y="30.4" width="9" height="1.2" fill="#c8d0e0" opacity="0.6"/>
<rect x="240" y="34.0" width="2" height="2" fill="#40c040"/><rect x="244" y="34.4" width="9" height="1.2" fill="#c8d0e0" opacity="0.6"/>
<rect x="240" y="38.0" width="2" height="2" fill="#30c0c0"/><rect x="244" y="38.4" width="9" height="1.2" fill="#c8d0e0" opacity="0.6"/>
<rect x="240" y="42.0" width="2" height="2" fill="#e0a030"/><rect x="244" y="42.4" width="9" height="1.2" fill="#c8d0e0" opacity="0.6"/>
<rect x="240" y="46.0" width="2" height="2" fill="#e06040"/><rect x="244" y="46.4" width="9" height="1.2" fill="#c8d0e0" opacity="0.6"/>
<circle cx="243" cy="89" r="9" fill="#1a2a60" stroke="#30c0a0" stroke-width="3"/>
<path d="M234 89 A9 9 0 0 1 243 80" fill="none" stroke="#e06040" stroke-width="3"/>
<path d="M252 89 A9 9 0 0 1 243 98" fill="none" stroke="#e0c040" stroke-width="3"/>
<rect x="210" y="55" width="15" height="2" fill="#30a060"/><rect x="240" y="55" width="6" height="2" fill="#e0a030"/>
<g fill="#2a5ab0" opacity="0.8"><rect x="200" y="8" width="70" height="1.5"/><rect x="205" y="50" width="60" height="1.5"/><rect x="215" y="103" width="55" height="1.5"/></g>
<rect x="225" y="108" width="12" height="1" fill="#c8d0e0" opacity="0.5"/><rect x="262" y="108" width="5" height="1" fill="#c8d0e0" opacity="0.5"/>
<rect x="225" y="113" width="12" height="1" fill="#c8d0e0" opacity="0.5"/><rect x="262" y="113" width="5" height="1" fill="#c8d0e0" opacity="0.5"/>
<rect x="225" y="118" width="12" height="1" fill="#c8d0e0" opacity="0.5"/><rect x="262" y="118" width="5" height="1" fill="#c8d0e0" opacity="0.5"/>
<rect x="225" y="123" width="12" height="1" fill="#c8d0e0" opacity="0.5"/><rect x="262" y="123" width="5" height="1" fill="#c8d0e0" opacity="0.5"/>
<rect x="0" y="0" width="276.0" height="9.5" fill="#0e2a6a"/>
<path d="M85 0 L190 0 L185 9.5 L90 9.5 Z" fill="#1a44a8"/>
<text x="138" y="7.6" text-anchor="middle" font-family="Liberation Sans" font-size="7.2" font-weight="bold" fill="#f0f4ff">人员定位管理系统</text>
<rect x="12" y="3.5" width="14" height="1.5" fill="#c0c8e0" opacity="0.6"/><rect x="225" y="3.5" width="25" height="1.5" fill="#c0c8e0" opacity="0.6"/>
<rect x="40" y="121.5" width="236.0" height="18.0" fill="#3a5a58"/>
<rect x="40" y="121.5" width="236.0" height="18.0" fill="#0c1c40" opacity="0.55"/>
<rect x="0" y="121.5" width="60" height="18.0" fill="#2a3848" opacity="0.8"/>
<rect x="70.0" y="122.5" width="11" height="14" fill="#102a5a" opacity="0.8"/>
<circle cx="75.5" cy="128" r="2.8" fill="#c0d4f0" opacity="0.9"/><rect x="73.0" y="132.5" width="5" height="1.2" fill="#7a9ad0"/>
<rect x="86.2" y="122.5" width="11" height="14" fill="#102a5a" opacity="0.8"/>
<circle cx="91.7" cy="128" r="2.8" fill="#c0d4f0" opacity="0.9"/><rect x="89.2" y="132.5" width="5" height="1.2" fill="#7a9ad0"/>
<rect x="102.4" y="122.5" width="11" height="14" fill="#102a5a" opacity="0.8"/>
<circle cx="107.9" cy="128" r="2.8" fill="#c0d4f0" opacity="0.9"/><rect x="105.4" y="132.5" width="5" height="1.2" fill="#7a9ad0"/>
<rect x="118.6" y="122.5" width="11" height="14" fill="#102a5a" opacity="0.8"/>
<circle cx="124.1" cy="128" r="2.8" fill="#c0d4f0" opacity="0.9"/><rect x="121.6" y="132.5" width="5" height="1.2" fill="#7a9ad0"/>
<rect x="134.8" y="122.5" width="11" height="14" fill="#102a5a" opacity="0.8"/>
<circle cx="140.3" cy="128" r="2.8" fill="#c0d4f0" opacity="0.9"/><rect x="137.8" y="132.5" width="5" height="1.2" fill="#7a9ad0"/>
<rect x="151.0" y="122.5" width="11" height="14" fill="#102a5a" opacity="0.8"/>
<circle cx="156.5" cy="128" r="2.8" fill="#c0d4f0" opacity="0.9"/><rect x="154.0" y="132.5" width="5" height="1.2" fill="#7a9ad0"/>
<rect x="167.2" y="122.5" width="11" height="14" fill="#102a5a" opacity="0.8"/>
<circle cx="172.7" cy="128" r="2.8" fill="#c0d4f0" opacity="0.9"/><rect x="170.2" y="132.5" width="5" height="1.2" fill="#7a9ad0"/>
</g></g>
<!-- TV cable -->
<path d="M920.5 247 Q921 300 918 381" fill="none" stroke="#2a2a2a" stroke-width="1.6"/>
<!-- laptop -->
<rect x="992.5" y="309" width="130.2" height="94" rx="4" fill="#161618"/>
<g clip-path="url(#lapclip)"><g transform="translate(995.6 312.7) scale(0.4507 0.6136)">
<rect x="0" y="0" width="276.0" height="139.5" fill="#0b1c46"/>
<path d="M80 10 L190 10 L215 121 L55 121 Z" fill="#56665a"/>
<rect x="80.0" y="10.0" width="3.5" height="3.0" fill="#3a4a50"/>
<rect x="83.6" y="10.0" width="7.8" height="3.0" fill="#b8bcc0"/>
<rect x="92.1" y="10.0" width="2.9" height="3.0" fill="#98a098"/>
<rect x="95.5" y="10.0" width="3.1" height="3.0" fill="#6a7a70"/>
<rect x="98.7" y="10.0" width="3.1" height="3.0" fill="#6a7a70"/>
<rect x="101.9" y="10.0" width="6.2" height="3.0" fill="#7c8880"/>
<rect x="109.3" y="10.0" width="6.3" height="3.0" fill="#b8bcc0"/>
<rect x="116.7" y="10.0" width="5.1" height="3.0" fill="#7c8880"/>
<rect x="121.9" y="10.0" width="8.1" height="3.0" fill="#5a6a60"/>
<rect x="130.8" y="10.0" width="6.0" height="3.0" fill="#98a098"/>
<rect x="137.5" y="10.0" width="7.8" height="3.0" fill="#7c8880"/>
<rect x="145.5" y="10.0" width="6.2" height="3.0" fill="#7c8880"/>
<rect x="152.4" y="10.0" width="6.1" height="3.0" fill="#b8bcc0"/>
<rect x="159.6" y="10.0" width="6.5" height="3.0" fill="#6a7a70"/>
<rect x="167.5" y="10.0" width="5.3" height="3.0" fill="#5a6a60"/>
<rect x="173.7" y="10.0" width="8.5" height="3.0" fill="#5a6a60"/>
<rect x="182.8" y="10.0" width="7.2" height="3.0" fill="#3a4a50"/>
<rect x="79.2" y="13.5" width="4.5" height="2.3" fill="#6a7a70"/>
<rect x="85.4" y="13.5" width="7.2" height="2.3" fill="#5a6a60"/>
<rect x="93.9" y="13.5" width="3.0" height="2.3" fill="#98a098"/>
<rect x="97.7" y="13.5" width="7.4" height="2.3" fill="#7c8880"/>
<rect x="107.0" y="13.5" width="5.2" height="2.3" fill="#3a4a50"/>
<rect x="112.4" y="13.5" width="6.1" height="2.3" fill="#4a6a5a"/>
<rect x="120.3" y="13.5" width="4.5" height="2.3" fill="#3a4a50"/>
<rect x="125.5" y="13.5" width="5.7" height="2.3" fill="#4a6a5a"/>
<rect x="132.1" y="13.5" width="8.0" height="2.3" fill="#5a6a60"/>
<rect x="141.0" y="13.5" width="6.8" height="2.3" fill="#b8bcc0"/>
<rect x="149.3" y="13.5" width="4.5" height="2.3" fill="#98a098"/>
<rect x="155.8" y="13.5" width="7.8" height="2.3" fill="#5a6a60"/>
<rect x="165.1" y="13.5" width="8.3" height="2.3" fill="#5a6a60"/>
<rect x="173.4" y="13.5" width="5.5" height="2.3" fill="#7c8880"/>
<rect x="180.1" y="13.5" width="5.7" height="2.3" fill="#7c8880"/>
<rect x="187.4" y="13.5" width="3.3" height="2.3" fill="#7c8880"/>
<rect x="78.6" y="16.2" width="5.7" height="4.5" fill="#7c8880"/>
<rect x="85.2" y="16.2" width="6.1" height="4.5" fill="#7c8880"/>
<rect x="92.9" y="16.2" width="8.1" height="4.5" fill="#5a6a60"/>
<rect x="102.5" y="16.2" width="8.9" height="4.5" fill="#3a4a50"/>
<rect x="113.1" y="16.2" width="8.7" height="4.5" fill="#7c8880"/>
<rect x="122.0" y="16.2" width="3.5" height="4.5" fill="#3a4a50"/>
<rect x="126.0" y="16.2" width="5.7" height="4.5" fill="#98a098"/>
<rect x="132.0" y="16.2" width="4.3" height="4.5" fill="#7c8880"/>
<rect x="137.2" y="16.2" width="4.9" height="4.5" fill="#98a098"/>
<rect x="142.7" y="16.2" width="3.3" height="4.5" fill="#4a6a5a"/>
<rect x="147.1" y="16.2" width="6.5" height="4.5" fill="#3a4a50"/>
<rect x="155.1" y="16.2" width="5.5" height="4.5" fill="#4a6a5a"/>
<rect x="162.1" y="16.2" width="8.2" height="4.5" fill="#4a6a5a"/>
<rect x="171.4" y="16.2" width="5.1" height="4.5" fill="#6a7a70"/>
<rect x="176.7" y="16.2" width="6.6" height="4.5" fill="#b8bcc0"/>
<rect x="183.7" y="16.2" width="7.7" height="4.5" fill="#6a7a70"/>
<rect x="77.4" y="21.5" width="2.8" height="3.0" fill="#b8bcc0"/>
<rect x="81.4" y="21.5" width="6.0" height="3.0" fill="#5a6a60"/>
<rect x="88.6" y="21.5" width="3.0" height="3.0" fill="#7c8880"/>
<rect x="92.8" y="21.5" width="3.5" height="3.0" fill="#5a6a60"/>
<rect x="98.2" y="21.5" width="6.4" height="3.0" fill="#6a7a70"/>
<rect x="104.8" y="21.5" width="8.0" height="3.0" fill="#6a7a70"/>
<rect x="113.8" y="21.5" width="4.5" height="3.0" fill="#7c8880"/>
<rect x="118.5" y="21.5" width="4.7" height="3.0" fill="#5a6a60"/>
<rect x="124.2" y="21.5" width="7.0" height="3.0" fill="#98a098"/>
<rect x="131.3" y="21.5" width="8.7" height="3.0" fill="#98a098"/>
<rect x="140.7" y="21.5" width="7.0" height="3.0" fill="#b8bcc0"/>
<rect x="149.2" y="21.5" width="4.4" height="3.0" fill="#3a4a50"/>
<rect x="155.3" y="21.5" width="7.0" height="3.0" fill="#5a6a60"/>
<rect x="163.4" y="21.5" width="8.4" height="3.0" fill="#5a6a60"/>
<rect x="173.3" y="21.5" width="6.0" height="3.0" fill="#4a6a5a"/>
<rect x="180.3" y="21.5" width="6.6" height="3.0" fill="#98a098"/>
<rect x="188.6" y="21.5" width="4.0" height="3.0" fill="#4a6a5a"/>
<rect x="76.6" y="25.0" width="5.1" height="2.6" fill="#4a6a5a"/>
<rect x="82.2" y="25.0" width="5.9" height="2.6" fill="#5a6a60"/>
<rect x="89.5" y="25.0" width="8.9" height="2.6" fill="#4a6a5a"/>
<rect x="99.0" y="25.0" width="4.2" height="2.6" fill="#3a4a50"/>
<rect x="104.4" y="25.0" width="4.7" height="2.6" fill="#4a6a5a"/>
<rect x="111.0" y="25.0" width="8.9" height="2.6" fill="#5a6a60"/>
<rect x="120.1" y="25.0" width="3.2" height="2.6" fill="#6a7a70"/>
<rect x="123.6" y="25.0" width="3.8" height="2.6" fill="#98a098"/>
<rect x="129.4" y="25.0" width="6.5" height="2.6" fill="#b8bcc0"/>
<rect x="136.9" y="25.0" width="6.7" height="2.6" fill="#4a6a5a"/>
<rect x="144.9" y="25.0" width="7.9" height="2.6" fill="#b8bcc0"/>
<rect x="154.6" y="25.0" width="7.6" height="2.6" fill="#4a6a5a"/>
<rect x="162.6" y="25.0" width="8.3" height="2.6" fill="#6a7a70"/>
<rect x="172.5" y="25.0" width="4.7" height="2.6" fill="#4a6a5a"/>
<rect x="179.0" y="25.0" width="7.2" height="2.6" fill="#6a7a70"/>
<rect x="187.0" y="25.0" width="6.3" height="2.6" fill="#3a4a50"/>
<rect x="73.0" y="41.0" width="2.7" height="4.7" fill="#a0a8a0"/>
<rect x="77.5" y="41.0" width="7.7" height="4.7" fill="#808a80"/>
<rect x="86.5" y="41.0" width="6.4" height="4.7" fill="#6a786c"/>
<rect x="94.2" y="41.0" width="4.8" height="4.7" fill="#a0a8a0"/>
<rect x="100.0" y="41.0" width="2.6" height="4.7" fill="#5a7a5a"/>
<rect x="104.6" y="41.0" width="6.7" height="4.7" fill="#a0a8a0"/>
<rect x="112.8" y="41.0" width="3.4" height="4.7" fill="#5a7a5a"/>
<rect x="116.6" y="41.0" width="8.2" height="4.7" fill="#c0c4c6"/>
<rect x="125.3" y="41.0" width="4.4" height="4.7" fill="#808a80"/>
<rect x="131.2" y="41.0" width="4.6" height="4.7" fill="#a0a8a0"/>
<rect x="136.7" y="41.0" width="3.4" height="4.7" fill="#404e50"/>
<rect x="140.8" y="41.0" width="5.5" height="4.7" fill="#a0a8a0"/>
<rect x="147.9" y="41.0" width="5.9" height="4.7" fill="#5a7a5a"/>
<rect x="155.6" y="41.0" width="5.8" height="4.7" fill="#a0a8a0"/>
<rect x="161.6" y="41.0" width="5.8" height="4.7" fill="#5a7a5a"/>
<rect x="168.3" y="41.0" width="3.7" height="4.7" fill="#c0c4c6"/>
<rect x="173.6" y="41.0" width="3.5" height="4.7" fill="#808a80"/>
<rect x="178.0" y="41.0" width="7.2" height="4.7" fill="#a0a8a0"/>
<rect x="185.3" y="41.0" width="6.9" height="4.7" fill="#a0a8a0"/>
<rect x="193.4" y="41.0" width="3.6" height="4.7" fill="#c0c4c6"/>
<rect x="71.8" y="46.5" width="3.7" height="2.3" fill="#c0c4c6"/>
<rect x="77.1" y="46.5" width="5.8" height="2.3" fill="#a0a8a0"/>
<rect x="82.9" y="46.5" width="8.3" height="2.3" fill="#c0c4c6"/>
<rect x="92.1" y="46.5" width="6.5" height="2.3" fill="#a0a8a0"/>
<rect x="99.8" y="46.5" width="3.8" height="2.3" fill="#5a6a5c"/>
<rect x="104.5" y="46.5" width="6.0" height="2.3" fill="#6a786c"/>
<rect x="111.5" y="46.5" width="4.1" height="2.3" fill="#a0a8a0"/>
<rect x="117.4" y="46.5" width="8.6" height="2.3" fill="#5a6a5c"/>
<rect x="127.8" y="46.5" width="8.3" height="2.3" fill="#808a80"/>
<rect x="137.8" y="46.5" width="3.4" height="2.3" fill="#c0c4c6"/>
<rect x="142.0" y="46.5" width="4.6" height="2.3" fill="#404e50"/>
<rect x="147.0" y="46.5" width="3.0" height="2.3" fill="#404e50"/>
<rect x="150.6" y="46.5" width="3.3" height="2.3" fill="#5a7a5a"/>
<rect x="154.2" y="46.5" width="7.2" height="2.3" fill="#404e50"/>
<rect x="162.1" y="46.5" width="4.1" height="2.3" fill="#808a80"/>
<rect x="168.2" y="46.5" width="3.9" height="2.3" fill="#c0c4c6"/>
<rect x="172.9" y="46.5" width="5.7" height="2.3" fill="#404e50"/>
<rect x="180.2" y="46.5" width="3.5" height="2.3" fill="#6a786c"/>
<rect x="185.8" y="46.5" width="5.1" height="2.3" fill="#6a786c"/>
<rect x="191.3" y="46.5" width="4.6" height="2.3" fill="#404e50"/>
<rect x="196.6" y="46.5" width="1.6" height="2.3" fill="#6a786c"/>
<rect x="71.2" y="49.1" width="4.7" height="2.2" fill="#a0a8a0"/>
<rect x="76.4" y="49.1" width="8.7" height="2.2" fill="#c0c4c6"/>
<rect x="87.1" y="49.1" width="7.6" height="2.2" fill="#c0c4c6"/>
<rect x="94.9" y="49.1" width="4.3" height="2.2" fill="#5a7a5a"/>
<rect x="99.6" y="49.1" width="7.4" height="2.2" fill="#5a7a5a"/>
<rect x="107.8" y="49.1" width="8.4" height="2.2" fill="#5a7a5a"/>
<rect x="118.1" y="49.1" width="5.1" height="2.2" fill="#a0a8a0"/>
<rect x="125.1" y="49.1" width="6.2" height="2.2" fill="#404e50"/>
<rect x="132.0" y="49.1" width="4.3" height="2.2" fill="#5a7a5a"/>
<rect x="137.7" y="49.1" width="5.3" height="2.2" fill="#c0c4c6"/>
<rect x="143.5" y="49.1" width="2.6" height="2.2" fill="#c0c4c6"/>
<rect x="147.7" y="49.1" width="3.0" height="2.2" fill="#5a7a5a"/>
<rect x="151.2" y="49.1" width="4.2" height="2.2" fill="#c0c4c6"/>
<rect x="156.3" y="49.1" width="4.7" height="2.2" fill="#a0a8a0"/>
<rect x="161.8" y="49.1" width="8.5" height="2.2" fill="#a0a8a0"/>
<rect x="170.5" y="49.1" width="5.9" height="2.2" fill="#808a80"/>
<rect x="178.4" y="49.1" width="8.8" height="2.2" fill="#5a6a5c"/>
<rect x="187.3" y="49.1" width="3.8" height="2.2" fill="#5a6a5c"/>
<rect x="192.3" y="49.1" width="6.0" height="2.2" fill="#808a80"/>
<rect x="70.6" y="51.7" width="3.7" height="3.4" fill="#5a6a5c"/>
<rect x="75.9" y="51.7" width="9.0" height="3.4" fill="#c0c4c6"/>
<rect x="84.9" y="51.7" width="7.3" height="3.4" fill="#a0a8a0"/>
<rect x="94.1" y="51.7" width="5.8" height="3.4" fill="#808a80"/>
<rect x="101.8" y="51.7" width="3.2" height="3.4" fill="#5a7a5a"/>
<rect x="106.3" y="51.7" width="6.8" height="3.4" fill="#a0a8a0"/>
<rect x="114.7" y="51.7" width="5.1" height="3.4" fill="#a0a8a0"/>
<rect x="120.4" y="51.7" width="3.9" height="3.4" fill="#808a80"/>
<rect x="125.0" y="51.7" width="7.9" height="3.4" fill="#404e50"/>
<rect x="134.3" y="51.7" width="3.4" height="3.4" fill="#5a6a5c"/>
<rect x="139.7" y="51.7" width="7.9" height="3.4" fill="#c0c4c6"/>
<rect x="147.8" y="51.7" width="7.3" height="3.4" fill="#5a6a5c"/>
<rect x="156.0" y="51.7" width="2.9" height="3.4" fill="#404e50"/>
<rect x="160.5" y="51.7" width="8.2" height="3.4" fill="#404e50"/>
<rect x="170.6" y="51.7" width="6.4" height="3.4" fill="#404e50"/>
<rect x="177.6" y="51.7" width="5.5" height="3.4" fill="#808a80"/>
<rect x="183.6" y="51.7" width="2.5" height="3.4" fill="#5a6a5c"/>
<rect x="188.1" y="51.7" width="8.8" height="3.4" fill="#a0a8a0"/>
<rect x="197.5" y="51.7" width="1.9" height="3.4" fill="#5a6a5c"/>
<rect x="69.7" y="55.7" width="4.7" height="2.6" fill="#c0c4c6"/>
<rect x="75.3" y="55.7" width="5.8" height="2.6" fill="#808a80"/>
<rect x="81.6" y="55.7" width="7.5" height="2.6" fill="#c0c4c6"/>
<rect x="89.7" y="55.7" width="3.1" height="2.6" fill="#6a786c"/>
<rect x="93.9" y="55.7" width="5.1" height="2.6" fill="#5a6a5c"/>
<rect x="99.6" y="55.7" width="4.0" height="2.6" fill="#a0a8a0"/>
<rect x="105.5" y="55.7" width="8.0" height="2.6" fill="#808a80"/>
<rect x="114.9" y="55.7" width="7.2" height="2.6" fill="#a0a8a0"/>
<rect x="122.8" y="55.7" width="4.6" height="2.6" fill="#6a786c"/>
<rect x="127.7" y="55.7" width="7.2" height="2.6" fill="#404e50"/>
<rect x="135.2" y="55.7" width="7.9" height="2.6" fill="#404e50"/>
<rect x="144.9" y="55.7" width="6.6" height="2.6" fill="#404e50"/>
<rect x="152.9" y="55.7" width="5.8" height="2.6" fill="#a0a8a0"/>
<rect x="160.2" y="55.7" width="6.2" height="2.6" fill="#5a7a5a"/>
<rect x="168.0" y="55.7" width="7.9" height="2.6" fill="#a0a8a0"/>
<rect x="177.4" y="55.7" width="7.1" height="2.6" fill="#404e50"/>
<rect x="185.8" y="55.7" width="3.1" height="2.6" fill="#c0c4c6"/>
<rect x="189.2" y="55.7" width="4.8" height="2.6" fill="#c0c4c6"/>
<rect x="194.8" y="55.7" width="5.4" height="2.6" fill="#c0c4c6"/>
<rect x="69.0" y="58.8" width="6.9" height="3.7" fill="#6a786c"/>
<rect x="76.5" y="58.8" width="5.5" height="3.7" fill="#c0c4c6"/>
<rect x="83.4" y="58.8" width="5.8" height="3.7" fill="#a0a8a0"/>
<rect x="89.4" y="58.8" width="5.9" height="3.7" fill="#404e50"/>
<rect x="96.8" y="58.8" width="4.1" height="3.7" fill="#c0c4c6"/>
<rect x="102.6" y="58.8" width="4.0" height="3.7" fill="#5a7a5a"/>
<rect x="107.1" y="58.8" width="7.3" height="3.7" fill="#6a786c"/>
<rect x="115.3" y="58.8" width="5.0" height="3.7" fill="#6a786c"/>
<rect x="122.2" y="58.8" width="4.4" height="3.7" fill="#c0c4c6"/>
<rect x="127.8" y="58.8" width="6.7" height="3.7" fill="#c0c4c6"/>
<rect x="135.6" y="58.8" width="4.7" height="3.7" fill="#404e50"/>
<rect x="141.8" y="58.8" width="4.5" height="3.7" fill="#a0a8a0"/>
<rect x="146.5" y="58.8" width="5.6" height="3.7" fill="#6a786c"/>
<rect x="152.7" y="58.8" width="6.9" height="3.7" fill="#404e50"/>
<rect x="160.0" y="58.8" width="5.7" height="3.7" fill="#404e50"/>
<rect x="166.7" y="58.8" width="5.5" height="3.7" fill="#6a786c"/>
<rect x="173.8" y="58.8" width="9.0" height="3.7" fill="#a0a8a0"/>
<rect x="183.1" y="58.8" width="8.9" height="3.7" fill="#6a786c"/>
<rect x="192.0" y="58.8" width="5.5" height="3.7" fill="#5a7a5a"/>
<rect x="198.5" y="58.8" width="2.5" height="3.7" fill="#5a6a5c"/>
<rect x="68.0" y="63.1" width="8.5" height="2.4" fill="#c0c4c6"/>
<rect x="77.7" y="63.1" width="3.4" height="2.4" fill="#a0a8a0"/>
<rect x="81.7" y="63.1" width="4.8" height="2.4" fill="#a0a8a0"/>
<rect x="88.2" y="63.1" width="5.8" height="2.4" fill="#c0c4c6"/>
<rect x="95.4" y="63.1" width="4.0" height="2.4" fill="#6a786c"/>
<rect x="100.2" y="63.1" width="3.5" height="2.4" fill="#6a786c"/>
<rect x="105.1" y="63.1" width="5.1" height="2.4" fill="#404e50"/>
<rect x="110.5" y="63.1" width="4.7" height="2.4" fill="#5a6a5c"/>
<rect x="115.5" y="63.1" width="4.7" height="2.4" fill="#5a6a5c"/>
<rect x="121.6" y="63.1" width="8.0" height="2.4" fill="#c0c4c6"/>
<rect x="131.5" y="63.1" width="3.8" height="2.4" fill="#c0c4c6"/>
<rect x="137.0" y="63.1" width="4.4" height="2.4" fill="#5a6a5c"/>
<rect x="141.5" y="63.1" width="5.0" height="2.4" fill="#5a7a5a"/>
<rect x="147.8" y="63.1" width="4.8" height="2.4" fill="#6a786c"/>
<rect x="154.1" y="63.1" width="8.1" height="2.4" fill="#5a6a5c"/>
<rect x="162.4" y="63.1" width="7.9" height="2.4" fill="#5a6a5c"/>
<rect x="171.6" y="63.1" width="3.5" height="2.4" fill="#5a6a5c"/>
<rect x="175.9" y="63.1" width="4.6" height="2.4" fill="#5a7a5a"/>
<rect x="181.2" y="63.1" width="8.7" height="2.4" fill="#c0c4c6"/>
<rect x="191.5" y="63.1" width="6.6" height="2.4" fill="#a0a8a0"/>
<rect x="199.2" y="63.1" width="2.7" height="2.4" fill="#c0c4c6"/>
<rect x="63.6" y="83.0" width="6.5" height="3.2" fill="#707c70"/>
<rect x="71.3" y="83.0" width="4.4" height="3.2" fill="#a8b0a8"/>
<rect x="77.5" y="83.0" width="6.1" height="3.2" fill="#707c70"/>
<rect x="84.5" y="83.0" width="4.7" height="3.2" fill="#c8ccc8"/>
<rect x="89.8" y="83.0" width="7.3" height="3.2" fill="#3a4840"/>
<rect x="97.6" y="83.0" width="6.8" height="3.2" fill="#c8ccc8"/>
<rect x="105.3" y="83.0" width="6.8" height="3.2" fill="#a8b0a8"/>
<rect x="112.5" y="83.0" width="3.6" height="3.2" fill="#707c70"/>
<rect x="117.1" y="83.0" width="7.8" height="3.2" fill="#8a968a"/>
<rect x="125.3" y="83.0" width="8.4" height="3.2" fill="#4e6a4e"/>
<rect x="134.6" y="83.0" width="3.4" height="3.2" fill="#707c70"/>
<rect x="138.5" y="83.0" width="3.6" height="3.2" fill="#8a968a"/>
<rect x="142.3" y="83.0" width="4.1" height="3.2" fill="#c8ccc8"/>
<rect x="148.0" y="83.0" width="3.8" height="3.2" fill="#a8b0a8"/>
<rect x="153.3" y="83.0" width="5.2" height="3.2" fill="#5e6e60"/>
<rect x="160.0" y="83.0" width="3.9" height="3.2" fill="#c8ccc8"/>
<rect x="164.5" y="83.0" width="2.9" height="3.2" fill="#c8ccc8"/>
<rect x="168.6" y="83.0" width="4.8" height="3.2" fill="#3a4840"/>
<rect x="174.4" y="83.0" width="6.6" height="3.2" fill="#4e6a4e"/>
<rect x="182.7" y="83.0" width="3.1" height="3.2" fill="#707c70"/>
<rect x="186.6" y="83.0" width="6.7" height="3.2" fill="#5e6e60"/>
<rect x="195.2" y="83.0" width="8.0" height="3.2" fill="#4e6a4e"/>
<rect x="205.1" y="83.0" width="1.3" height="3.2" fill="#5e6e60"/>
<rect x="62.7" y="86.7" width="5.6" height="4.4" fill="#8a968a"/>
<rect x="69.3" y="86.7" width="3.0" height="4.4" fill="#4e6a4e"/>
<rect x="73.3" y="86.7" width="5.5" height="4.4" fill="#5e6e60"/>
<rect x="79.3" y="86.7" width="3.2" height="4.4" fill="#707c70"/>
<rect x="82.9" y="86.7" width="8.8" height="4.4" fill="#a8b0a8"/>
<rect x="93.6" y="86.7" width="7.2" height="4.4" fill="#3a4840"/>
<rect x="102.4" y="86.7" width="8.3" height="4.4" fill="#a8b0a8"/>
<rect x="111.9" y="86.7" width="2.8" height="4.4" fill="#4e6a4e"/>
<rect x="114.9" y="86.7" width="6.2" height="4.4" fill="#a8b0a8"/>
<rect x="122.4" y="86.7" width="4.5" height="4.4" fill="#707c70"/>
<rect x="128.1" y="86.7" width="5.9" height="4.4" fill="#5e6e60"/>
<rect x="135.4" y="86.7" width="3.2" height="4.4" fill="#a8b0a8"/>
<rect x="139.3" y="86.7" width="8.6" height="4.4" fill="#707c70"/>
<rect x="148.7" y="86.7" width="4.0" height="4.4" fill="#8a968a"/>
<rect x="152.6" y="86.7" width="6.0" height="4.4" fill="#5e6e60"/>
<rect x="159.2" y="86.7" width="4.6" height="4.4" fill="#4e6a4e"/>
<rect x="165.5" y="86.7" width="5.6" height="4.4" fill="#707c70"/>
<rect x="172.2" y="86.7" width="2.7" height="4.4" fill="#5e6e60"/>
<rect x="176.3" y="86.7" width="4.5" height="4.4" fill="#a8b0a8"/>
<rect x="181.2" y="86.7" width="8.3" height="4.4" fill="#3a4840"/>
<rect x="190.3" y="86.7" width="4.2" height="4.4" fill="#3a4840"/>
<rect x="195.3" y="86.7" width="4.9" height="4.4" fill="#5e6e60"/>
<rect x="200.2" y="86.7" width="4.7" height="4.4" fill="#5e6e60"/>
<rect x="205.7" y="86.7" width="1.6" height="4.4" fill="#a8b0a8"/>
<rect x="61.5" y="91.9" width="5.8" height="4.0" fill="#707c70"/>
<rect x="68.3" y="91.9" width="3.8" height="4.0" fill="#4e6a4e"/>
<rect x="73.8" y="91.9" width="4.0" height="4.0" fill="#707c70"/>
<rect x="78.3" y="91.9" width="8.3" height="4.0" fill="#a8b0a8"/>
<rect x="88.5" y="91.9" width="5.7" height="4.0" fill="#707c70"/>
<rect x="96.0" y="91.9" width="5.7" height="4.0" fill="#3a4840"/>
<rect x="101.8" y="91.9" width="6.4" height="4.0" fill="#5e6e60"/>
<rect x="108.2" y="91.9" width="2.7" height="4.0" fill="#8a968a"/>
<rect x="111.2" y="91.9" width="2.8" height="4.0" fill="#a8b0a8"/>
<rect x="114.4" y="91.9" width="5.4" height="4.0" fill="#3a4840"/>
<rect x="121.6" y="91.9" width="7.3" height="4.0" fill="#a8b0a8"/>
<rect x="130.7" y="91.9" width="4.6" height="4.0" fill="#707c70"/>
<rect x="136.6" y="91.9" width="5.9" height="4.0" fill="#5e6e60"/>
<rect x="142.6" y="91.9" width="6.8" height="4.0" fill="#5e6e60"/>
<rect x="151.1" y="91.9" width="8.9" height="4.0" fill="#5e6e60"/>
<rect x="160.4" y="91.9" width="2.5" height="4.0" fill="#c8ccc8"/>
<rect x="163.0" y="91.9" width="5.2" height="4.0" fill="#a8b0a8"/>
<rect x="169.4" y="91.9" width="7.4" height="4.0" fill="#5e6e60"/>
<rect x="177.5" y="91.9" width="7.8" height="4.0" fill="#4e6a4e"/>
<rect x="187.0" y="91.9" width="3.1" height="4.0" fill="#3a4840"/>
<rect x="191.0" y="91.9" width="4.9" height="4.0" fill="#5e6e60"/>
<rect x="196.3" y="91.9" width="4.9" height="4.0" fill="#5e6e60"/>
<rect x="201.2" y="91.9" width="5.2" height="4.0" fill="#4e6a4e"/>
<rect x="207.7" y="91.9" width="0.8" height="4.0" fill="#5e6e60"/>
<rect x="60.5" y="96.6" width="8.5" height="2.3" fill="#c8ccc8"/>
<rect x="69.4" y="96.6" width="2.9" height="2.3" fill="#8a968a"/>
<rect x="72.9" y="96.6" width="4.3" height="2.3" fill="#8a968a"/>
<rect x="77.3" y="96.6" width="7.4" height="2.3" fill="#3a4840"/>
<rect x="85.3" y="96.6" width="4.3" height="2.3" fill="#a8b0a8"/>
<rect x="91.0" y="96.6" width="6.4" height="2.3" fill="#4e6a4e"/>
<rect x="98.7" y="96.6" width="8.6" height="2.3" fill="#a8b0a8"/>
<rect x="108.9" y="96.6" width="3.2" height="2.3" fill="#3a4840"/>
<rect x="114.1" y="96.6" width="8.7" height="2.3" fill="#5e6e60"/>
<rect x="124.3" y="96.6" width="8.4" height="2.3" fill="#4e6a4e"/>
<rect x="133.8" y="96.6" width="8.5" height="2.3" fill="#707c70"/>
<rect x="142.3" y="96.6" width="8.6" height="2.3" fill="#c8ccc8"/>
<rect x="152.5" y="96.6" width="7.5" height="2.3" fill="#8a968a"/>
<rect x="160.5" y="96.6" width="8.1" height="2.3" fill="#5e6e60"/>
<rect x="169.3" y="96.6" width="7.6" height="2.3" fill="#a8b0a8"/>
<rect x="177.9" y="96.6" width="5.0" height="2.3" fill="#707c70"/>
<rect x="183.5" y="96.6" width="2.9" height="2.3" fill="#a8b0a8"/>
<rect x="187.4" y="96.6" width="6.0" height="2.3" fill="#707c70"/>
<rect x="195.4" y="96.6" width="8.2" height="2.3" fill="#a8b0a8"/>
<rect x="204.1" y="96.6" width="3.0" height="2.3" fill="#a8b0a8"/>
<rect x="208.0" y="96.6" width="1.5" height="2.3" fill="#5e6e60"/>
<rect x="59.9" y="99.3" width="5.5" height="2.5" fill="#3a4840"/>
<rect x="65.8" y="99.3" width="6.0" height="2.5" fill="#4e6a4e"/>
<rect x="73.2" y="99.3" width="3.3" height="2.5" fill="#4e6a4e"/>
<rect x="77.1" y="99.3" width="4.3" height="2.5" fill="#c8ccc8"/>
<rect x="82.1" y="99.3" width="7.3" height="2.5" fill="#707c70"/>
<rect x="90.3" y="99.3" width="3.7" height="2.5" fill="#707c70"/>
<rect x="94.3" y="99.3" width="8.2" height="2.5" fill="#8a968a"/>
<rect x="102.9" y="99.3" width="2.9" height="2.5" fill="#c8ccc8"/>
<rect x="107.8" y="99.3" width="5.8" height="2.5" fill="#707c70"/>
<rect x="114.9" y="99.3" width="3.2" height="2.5" fill="#5e6e60"/>
<rect x="120.1" y="99.3" width="3.2" height="2.5" fill="#5e6e60"/>
<rect x="125.0" y="99.3" width="4.0" height="2.5" fill="#5e6e60"/>
<rect x="130.8" y="99.3" width="2.8" height="2.5" fill="#c8ccc8"/>
<rect x="134.1" y="99.3" width="2.8" height="2.5" fill="#8a968a"/>
<rect x="138.8" y="99.3" width="6.3" height="2.5" fill="#a8b0a8"/>
<rect x="145.9" y="99.3" width="8.1" height="2.5" fill="#5e6e60"/>
<rect x="155.2" y="99.3" width="7.5" height="2.5" fill="#3a4840"/>
<rect x="164.6" y="99.3" width="3.2" height="2.5" fill="#8a968a"/>
<rect x="169.2" y="99.3" width="4.8" height="2.5" fill="#a8b0a8"/>
<rect x="174.7" y="99.3" width="3.4" height="2.5" fill="#707c70"/>
<rect x="180.2" y="99.3" width="2.7" height="2.5" fill="#3a4840"/>
<rect x="184.2" y="99.3" width="3.8" height="2.5" fill="#a8b0a8"/>
<rect x="189.7" y="99.3" width="5.2" height="2.5" fill="#c8ccc8"/>
<rect x="195.2" y="99.3" width="4.5" height="2.5" fill="#707c70"/>
<rect x="199.8" y="99.3" width="5.7" height="2.5" fill="#5e6e60"/>
<rect x="205.6" y="99.3" width="3.2" height="2.5" fill="#5e6e60"/>
<rect x="59.2" y="102.2" width="6.0" height="2.5" fill="#3a4840"/>
<rect x="65.5" y="102.2" width="7.0" height="2.5" fill="#5e6e60"/>
<rect x="74.5" y="102.2" width="6.8" height="2.5" fill="#5e6e60"/>
<rect x="83.3" y="102.2" width="4.5" height="2.5" fill="#8a968a"/>
<rect x="89.6" y="102.2" width="5.2" height="2.5" fill="#a8b0a8"/>
<rect x="96.5" y="102.2" width="9.0" height="2.5" fill="#c8ccc8"/>
<rect x="106.8" y="102.2" width="5.0" height="2.5" fill="#5e6e60"/>
<rect x="112.2" y="102.2" width="2.5" height="2.5" fill="#707c70"/>
<rect x="115.6" y="102.2" width="7.8" height="2.5" fill="#5e6e60"/>
<rect x="124.6" y="102.2" width="4.9" height="2.5" fill="#4e6a4e"/>
<rect x="129.8" y="102.2" width="2.6" height="2.5" fill="#8a968a"/>
<rect x="132.7" y="102.2" width="7.7" height="2.5" fill="#5e6e60"/>
<rect x="140.6" y="102.2" width="6.5" height="2.5" fill="#c8ccc8"/>
<rect x="148.6" y="102.2" width="3.6" height="2.5" fill="#c8ccc8"/>
<rect x="152.8" y="102.2" width="5.9" height="2.5" fill="#a8b0a8"/>
<rect x="158.9" y="102.2" width="5.7" height="2.5" fill="#4e6a4e"/>
<rect x="166.2" y="102.2" width="7.7" height="2.5" fill="#c8ccc8"/>
<rect x="174.1" y="102.2" width="8.6" height="2.5" fill="#5e6e60"/>
<rect x="183.4" y="102.2" width="6.4" height="2.5" fill="#3a4840"/>
<rect x="190.6" y="102.2" width="8.4" height="2.5" fill="#8a968a"/>
<rect x="200.4" y="102.2" width="8.3" height="2.5" fill="#3a4840"/>
<rect x="210.2" y="102.2" width="0.5" height="2.5" fill="#5e6e60"/>
<rect x="58.6" y="105.2" width="5.6" height="2.6" fill="#8a968a"/>
<rect x="64.6" y="105.2" width="5.1" height="2.6" fill="#8a968a"/>
<rect x="70.0" y="105.2" width="4.8" height="2.6" fill="#707c70"/>
<rect x="75.3" y="105.2" width="7.2" height="2.6" fill="#707c70"/>
<rect x="82.6" y="105.2" width="6.2" height="2.6" fill="#4e6a4e"/>
<rect x="90.1" y="105.2" width="6.8" height="2.6" fill="#c8ccc8"/>
<rect x="97.2" y="105.2" width="6.4" height="2.6" fill="#8a968a"/>
<rect x="105.3" y="105.2" width="7.6" height="2.6" fill="#3a4840"/>
<rect x="113.7" y="105.2" width="6.3" height="2.6" fill="#5e6e60"/>
<rect x="120.7" y="105.2" width="4.9" height="2.6" fill="#8a968a"/>
<rect x="126.5" y="105.2" width="2.7" height="2.6" fill="#8a968a"/>
<rect x="131.1" y="105.2" width="5.5" height="2.6" fill="#5e6e60"/>
<rect x="138.2" y="105.2" width="7.6" height="2.6" fill="#5e6e60"/>
<rect x="147.4" y="105.2" width="7.8" height="2.6" fill="#5e6e60"/>
<rect x="155.4" y="105.2" width="3.3" height="2.6" fill="#5e6e60"/>
<rect x="159.5" y="105.2" width="7.7" height="2.6" fill="#8a968a"/>
<rect x="168.2" y="105.2" width="2.8" height="2.6" fill="#3a4840"/>
<rect x="171.2" y="105.2" width="8.5" height="2.6" fill="#c8ccc8"/>
<rect x="181.3" y="105.2" width="5.8" height="2.6" fill="#a8b0a8"/>
<rect x="188.6" y="105.2" width="8.3" height="2.6" fill="#3a4840"/>
<rect x="198.8" y="105.2" width="3.4" height="2.6" fill="#4e6a4e"/>
<rect x="202.3" y="105.2" width="6.5" height="2.6" fill="#3a4840"/>
<rect x="210.5" y="105.2" width="1.0" height="2.6" fill="#5e6e60"/>
<rect x="57.9" y="108.3" width="7.7" height="4.2" fill="#3a4840"/>
<rect x="67.1" y="108.3" width="8.5" height="4.2" fill="#a8b0a8"/>
<rect x="77.3" y="108.3" width="6.5" height="4.2" fill="#c8ccc8"/>
<rect x="84.1" y="108.3" width="8.3" height="4.2" fill="#c8ccc8"/>
<rect x="94.2" y="108.3" width="5.5" height="4.2" fill="#c8ccc8"/>
<rect x="100.7" y="108.3" width="8.5" height="4.2" fill="#707c70"/>
<rect x="110.4" y="108.3" width="6.5" height="4.2" fill="#707c70"/>
<rect x="117.5" y="108.3" width="2.7" height="4.2" fill="#707c70"/>
<rect x="121.1" y="108.3" width="6.6" height="4.2" fill="#c8ccc8"/>
<rect x="129.1" y="108.3" width="8.3" height="4.2" fill="#707c70"/>
<rect x="139.0" y="108.3" width="4.2" height="4.2" fill="#4e6a4e"/>
<rect x="144.3" y="108.3" width="6.6" height="4.2" fill="#c8ccc8"/>
<rect x="152.8" y="108.3" width="5.4" height="4.2" fill="#8a968a"/>
<rect x="159.4" y="108.3" width="8.2" height="4.2" fill="#a8b0a8"/>
<rect x="168.2" y="108.3" width="6.0" height="4.2" fill="#4e6a4e"/>
<rect x="174.9" y="108.3" width="7.7" height="4.2" fill="#c8ccc8"/>
<rect x="183.4" y="108.3" width="4.9" height="4.2" fill="#707c70"/>
<rect x="189.0" y="108.3" width="7.5" height="4.2" fill="#5e6e60"/>
<rect x="196.9" y="108.3" width="6.5" height="4.2" fill="#a8b0a8"/>
<rect x="204.0" y="108.3" width="5.9" height="4.2" fill="#c8ccc8"/>
<rect x="211.1" y="108.3" width="1.0" height="4.2" fill="#8a968a"/>
<rect x="56.8" y="113.2" width="7.3" height="2.4" fill="#3a4840"/>
<rect x="64.1" y="113.2" width="3.5" height="2.4" fill="#8a968a"/>
<rect x="68.8" y="113.2" width="5.2" height="2.4" fill="#c8ccc8"/>
<rect x="75.8" y="113.2" width="3.4" height="2.4" fill="#707c70"/>
<rect x="80.4" y="113.2" width="2.8" height="2.4" fill="#a8b0a8"/>
<rect x="83.2" y="113.2" width="4.8" height="2.4" fill="#a8b0a8"/>
<rect x="89.1" y="113.2" width="6.0" height="2.4" fill="#5e6e60"/>
<rect x="96.2" y="113.2" width="6.3" height="2.4" fill="#707c70"/>
<rect x="103.3" y="113.2" width="7.9" height="2.4" fill="#707c70"/>
<rect x="111.4" y="113.2" width="8.6" height="2.4" fill="#707c70"/>
<rect x="121.4" y="113.2" width="5.4" height="2.4" fill="#a8b0a8"/>
<rect x="128.1" y="113.2" width="8.2" height="2.4" fill="#4e6a4e"/>
<rect x="136.8" y="113.2" width="7.8" height="2.4" fill="#a8b0a8"/>
<rect x="144.7" y="113.2" width="7.8" height="2.4" fill="#c8ccc8"/>
<rect x="153.7" y="113.2" width="6.3" height="2.4" fill="#8a968a"/>
<rect x="161.9" y="113.2" width="7.3" height="2.4" fill="#707c70"/>
<rect x="169.5" y="113.2" width="2.5" height="2.4" fill="#a8b0a8"/>
<rect x="173.0" y="113.2" width="5.1" height="2.4" fill="#707c70"/>
<rect x="178.5" y="113.2" width="8.4" height="2.4" fill="#a8b0a8"/>
<rect x="186.9" y="113.2" width="6.1" height="2.4" fill="#707c70"/>
<rect x="193.3" y="113.2" width="3.8" height="2.4" fill="#8a968a"/>
<rect x="198.4" y="113.2" width="6.7" height="2.4" fill="#5e6e60"/>
<rect x="206.7" y="113.2" width="3.6" height="2.4" fill="#c8ccc8"/>
<rect x="210.5" y="113.2" width="2.8" height="2.4" fill="#3a4840"/>
<path d="M100 28.5 L160 28.5 L162 41 L97 41 Z" fill="#86ae5a"/>
<rect x="112" y="31" width="6" height="3" fill="#e04a30"/><rect x="104" y="31" width="6" height="3" fill="#3a6aa0"/>
<path d="M70 66 L190 66 L193 70 L68 70 Z" fill="#6e9a5a"/>
<path d="M62 76 L196 76 L199 83 L58 83 Z" fill="#7a9a62"/>
<circle cx="83.0" cy="70.5" r="1.6" fill="#151515"/>
<circle cx="90.2" cy="70.5" r="1.6" fill="#151515"/>
<circle cx="97.4" cy="70.5" r="1.6" fill="#151515"/>
<circle cx="104.6" cy="70.5" r="1.6" fill="#151515"/>
<circle cx="111.8" cy="70.5" r="1.6" fill="#151515"/>
<circle cx="119.0" cy="70.5" r="1.6" fill="#151515"/>
<circle cx="126.2" cy="70.5" r="1.6" fill="#151515"/>
<circle cx="133.4" cy="70.5" r="1.6" fill="#151515"/>
<circle cx="140.6" cy="70.5" r="1.6" fill="#151515"/>
<circle cx="147.8" cy="70.5" r="1.6" fill="#151515"/>
<circle cx="155.0" cy="70.5" r="1.6" fill="#151515"/>
<circle cx="162.2" cy="70.5" r="1.6" fill="#151515"/>
<path d="M25 115.5 L215 115.5 L218 121.5 L20 121.5 Z" fill="#a4aaae"/>
<path d="M79 41 L85 41 L50 136 L42 136 Z" fill="#1e2a30"/>
<path d="M60 10 L76 10 L40 110 L18 110 Z" fill="#5a6878" opacity="0.8"/>
<rect x="48" y="5" width="13" height="3.5" rx="1" fill="#1a1030"/>
<rect x="90" y="14" width="13" height="3.5" rx="1" fill="#1a1030"/>
<rect x="160" y="20" width="13" height="3.5" rx="1" fill="#1a1030"/>
<rect x="106" y="54" width="13" height="3.5" rx="1" fill="#1a1030"/>
<rect x="170" y="50" width="13" height="3.5" rx="1" fill="#1a1030"/>
<rect x="93" y="62" width="13" height="3.5" rx="1" fill="#1a1030"/>
<rect x="120" y="88" width="13" height="3.5" rx="1" fill="#1a1030"/>
<rect x="165" y="60" width="13" height="3.5" rx="1" fill="#1a1030"/>
<rect x="25" y="38" width="13" height="3.5" rx="1" fill="#1a1030"/>
<rect x="37" y="15" width="5" height="4" rx="1" fill="#d03030"/>
<rect x="123" y="47" width="5" height="4" rx="1" fill="#d03030"/>
<rect x="157" y="75" width="5" height="4" rx="1" fill="#d03030"/>
<rect x="108" y="40" width="5" height="4" rx="1" fill="#d03030"/>
<path d="M0 0 L62 0 L40 40 L12 139.5 L0 139.5 Z" fill="#0a1a48" opacity="0.85"/>
<path d="M0 0 L45 0 L25 50 L0 60 Z" fill="#0a1a48" opacity="0.7"/>
<rect x="1" y="57" width="58" height="3.6" fill="#1c4ca8" opacity="0.9"/>
<rect x="1" y="62" width="58" height="3.6" fill="#2a3a70" opacity="0.9"/>
<rect x="1" y="66.5" width="58" height="3.6" fill="#1c4ca8" opacity="0.9"/>
<rect x="1" y="71" width="58" height="3.6" fill="#2a3a70" opacity="0.9"/>
<rect x="1" y="75.5" width="58" height="3.6" fill="#1c4ca8" opacity="0.9"/>
<rect x="1" y="80" width="58" height="3.6" fill="#2a3a70" opacity="0.9"/>
<g fill="#3a86d8"><ellipse cx="13" cy="15" rx="7" ry="2.2"/><ellipse cx="36" cy="15" rx="7" ry="2.2"/><ellipse cx="13" cy="26" rx="7" ry="2.2"/><ellipse cx="36" cy="26" rx="7" ry="2.2"/></g>
<g fill="#2a6ac0" opacity="0.9"><rect x="3" y="7" width="45" height="1.5"/><rect x="3" y="34" width="50" height="2"/><rect x="3" y="88" width="45" height="2"/></g>
<rect x="4" y="96.0" width="23.4" height="1.4" fill="#3a9aa8"/>
<rect x="6" y="99.0" width="20.1" height="1" fill="#9aa860" opacity="0.8"/>
<rect x="4" y="102.5" width="25.5" height="1.4" fill="#3a9aa8"/>
<rect x="6" y="105.5" width="28.9" height="1" fill="#9aa860" opacity="0.8"/>
<rect x="4" y="109.0" width="19.4" height="1.4" fill="#3a9aa8"/>
<rect x="6" y="112.0" width="28.9" height="1" fill="#9aa860" opacity="0.8"/>
<rect x="4" y="115.5" width="19.2" height="1.4" fill="#3a9aa8"/>
<rect x="6" y="118.5" width="22.7" height="1" fill="#9aa860" opacity="0.8"/>
<rect x="4" y="122.0" width="13.7" height="1.4" fill="#3a9aa8"/>
<rect x="6" y="125.0" width="22.8" height="1" fill="#9aa860" opacity="0.8"/>
<rect x="4" y="128.5" width="12.6" height="1.4" fill="#3a9aa8"/>
<rect x="6" y="131.5" width="24.0" height="1" fill="#9aa860" opacity="0.8"/>
<path d="M205 0 L276.0 0 L276.0 139.5 L238 139.5 L232 70 L213 20 Z" fill="#0a1a48" opacity="0.85"/>
<path d="M200 60 L240 58 L262 100 L230 104 Z" fill="#4a5a78" opacity="0.6"/>
<path d="M180 12 L205 12 L212 22 L185 22 Z" fill="#5ab0c0" opacity="0.8"/>
<circle cx="229" cy="27" r="8" fill="none" stroke="#3048d0" stroke-width="2.6"/>
<path d="M229 19 A8 8 0 0 1 236.5 24" fill="none" stroke="#e04848" stroke-width="2.6"/>
<circle cx="229" cy="46" r="6" fill="#122a62"/>
<rect x="240" y="18.0" width="2" height="2" fill="#e04040"/><rect x="244" y="18.4" width="9" height="1.2" fill="#c8d0e0" opacity="0.6"/>
<rect x="240" y="22.0" width="2" height="2" fill="#3050d0"/><rect x="244" y="22.4" width="9" height="1.2" fill="#c8d0e0" opacity="0.6"/>
<rect x="240" y="26.0" width="2" height="2" fill="#3090d0"/><rect x="244" y="26.4" width="9" height="1.2" fill="#c8d0e0" opacity="0.6"/>
<rect x="240" y="30.0" width="2" height="2" fill="#e8e040"/><rect x="244" y="30.4" width="9" height="1.2" fill="#c8d0e0" opacity="0.6"/>
<rect x="240" y="34.0" width="2" height="2" fill="#40c040"/><rect x="244" y="34.4" width="9" height="1.2" fill="#c8d0e0" opacity="0.6"/>
<rect x="240" y="38.0" width="2" height="2" fill="#30c0c0"/><rect x="244" y="38.4" width="9" height="1.2" fill="#c8d0e0" opacity="0.6"/>
<rect x="240" y="42.0" width="2" height="2" fill="#e0a030"/><rect x="244" y="42.4" width="9" height="1.2" fill="#c8d0e0" opacity="0.6"/>
<rect x="240" y="46.0" width="2" height="2" fill="#e06040"/><rect x="244" y="46.4" width="9" height="1.2" fill="#c8d0e0" opacity="0.6"/>
<circle cx="243" cy="89" r="9" fill="#1a2a60" stroke="#30c0a0" stroke-width="3"/>
<path d="M234 89 A9 9 0 0 1 243 80" fill="none" stroke="#e06040" stroke-width="3"/>
<path d="M252 89 A9 9 0 0 1 243 98" fill="none" stroke="#e0c040" stroke-width="3"/>
<rect x="210" y="55" width="15" height="2" fill="#30a060"/><rect x="240" y="55" width="6" height="2" fill="#e0a030"/>
<g fill="#2a5ab0" opacity="0.8"><rect x="200" y="8" width="70" height="1.5"/><rect x="205" y="50" width="60" height="1.5"/><rect x="215" y="103" width="55" height="1.5"/></g>
<rect x="225" y="108" width="12" height="1" fill="#c8d0e0" opacity="0.5"/><rect x="262" y="108" width="5" height="1" fill="#c8d0e0" opacity="0.5"/>
<rect x="225" y="113" width="12" height="1" fill="#c8d0e0" opacity="0.5"/><rect x="262" y="113" width="5" height="1" fill="#c8d0e0" opacity="0.5"/>
<rect x="225" y="118" width="12" height="1" fill="#c8d0e0" opacity="0.5"/><rect x="262" y="118" width="5" height="1" fill="#c8d0e0" opacity="0.5"/>
<rect x="225" y="123" width="12" height="1" fill="#c8d0e0" opacity="0.5"/><rect x="262" y="123" width="5" height="1" fill="#c8d0e0" opacity="0.5"/>
<rect x="0" y="0" width="276.0" height="9.5" fill="#0e2a6a"/>
<path d="M85 0 L190 0 L185 9.5 L90 9.5 Z" fill="#1a44a8"/>
<text x="138" y="7.6" text-anchor="middle" font-family="Liberation Sans" font-size="7.2" font-weight="bold" fill="#f0f4ff">人员定位管理系统</text>
<rect x="12" y="3.5" width="14" height="1.5" fill="#c0c8e0" opacity="0.6"/><rect x="225" y="3.5" width="25" height="1.5" fill="#c0c8e0" opacity="0.6"/>
<rect x="40" y="121.5" width="236.0" height="18.0" fill="#3a5a58"/>
<rect x="40" y="121.5" width="236.0" height="18.0" fill="#0c1c40" opacity="0.55"/>
<rect x="0" y="121.5" width="60" height="18.0" fill="#2a3848" opacity="0.8"/>
<rect x="70.0" y="122.5" width="11" height="14" fill="#102a5a" opacity="0.8"/>
<circle cx="75.5" cy="128" r="2.8" fill="#c0d4f0" opacity="0.9"/><rect x="73.0" y="132.5" width="5" height="1.2" fill="#7a9ad0"/>
<rect x="86.2" y="122.5" width="11" height="14" fill="#102a5a" opacity="0.8"/>
<circle cx="91.7" cy="128" r="2.8" fill="#c0d4f0" opacity="0.9"/><rect x="89.2" y="132.5" width="5" height="1.2" fill="#7a9ad0"/>
<rect x="102.4" y="122.5" width="11" height="14" fill="#102a5a" opacity="0.8"/>
<circle cx="107.9" cy="128" r="2.8" fill="#c0d4f0" opacity="0.9"/><rect x="105.4" y="132.5" width="5" height="1.2" fill="#7a9ad0"/>
<rect x="118.6" y="122.5" width="11" height="14" fill="#102a5a" opacity="0.8"/>
<circle cx="124.1" cy="128" r="2.8" fill="#c0d4f0" opacity="0.9"/><rect x="121.6" y="132.5" width="5" height="1.2" fill="#7a9ad0"/>
<rect x="134.8" y="122.5" width="11" height="14" fill="#102a5a" opacity="0.8"/>
<circle cx="140.3" cy="128" r="2.8" fill="#c0d4f0" opacity="0.9"/><rect x="137.8" y="132.5" width="5" height="1.2" fill="#7a9ad0"/>
<rect x="151.0" y="122.5" width="11" height="14" fill="#102a5a" opacity="0.8"/>
<circle cx="156.5" cy="128" r="2.8" fill="#c0d4f0" opacity="0.9"/><rect x="154.0" y="132.5" width="5" height="1.2" fill="#7a9ad0"/>
<rect x="167.2" y="122.5" width="11" height="14" fill="#102a5a" opacity="0.8"/>
<circle cx="172.7" cy="128" r="2.8" fill="#c0d4f0" opacity="0.9"/><rect x="170.2" y="132.5" width="5" height="1.2" fill="#7a9ad0"/>
</g></g>
<rect x="992.5" y="398.5" width="130.2" height="4.5" fill="#1e1e20"/>
<path d="M992.5 403 L1127.2 403 L1136 423 Q1136 425 1133 425 L985 425 Z" fill="url(#deck)"/>
<path d="M999.8 404.7 L1121.5 404.7 L1123 414 L997 414 Z" fill="#2c2d31"/>
<path d="M999.8 404.7 L1121.5 404.7 L1123 414 L997 414 Z" fill="#2c2d31"/>
<g stroke="#45464c" stroke-width="0.5"><path d="M999 407.8 L1122 407.8 M998.5 410.9 L1122.5 410.9"/></g>
<text x="1057.5" y="401.8" text-anchor="middle" font-family="Liberation Sans" font-size="2.8" fill="#888">MacBook Pro</text>
<!-- tablet -->
<path d="M874 400 Q868 405 872 408 Q885 410 905 407" fill="none" stroke="#222" stroke-width="1.5"/>
<path d="M875.6 386 L951.8 375.8 L992.8 408 L918.6 430.5 Z" fill="#1a1a1c"/>
<g clip-path="url(#tabclip)"><g transform="matrix(0.685 -0.09 0.385 0.385 882 388.5)">
<rect x="-10" y="-10" width="140" height="130" fill="#8e3ed0"/>
<path d="M-10 70 L60 95 L130 60 L130 120 L-10 120 Z" fill="#b03cb8"/>
<path d="M58 -10 L84 -10 Q80 30 62 55 Q45 80 10 102 L-10 102 L-10 78 Q30 60 48 35 Z" fill="#f0603c"/>
<path d="M58 -10 L68 -10 Q62 25 50 45 Q35 68 -10 86 L-10 76 Q30 58 44 35 Z" fill="#f6a23a"/>
<path d="M-10 -10 L60 -10 Q54 20 44 36 Q28 58 -10 76 Z" fill="#46aaf2"/>
</g></g>
<path d="M875.6 386 L918.6 430.5 L992.8 408" fill="none" stroke="#9a9aa0" stroke-width="1.2"/>
<!-- phone -->
<path d="M959 410 L1015 408.5 Q1018 408.5 1018.5 411 L1019.5 422 Q1019.5 425 1016 425 L958 425.5 Q955 425.5 955.5 422.5 L956.5 412.5 Q957 410 959 410 Z" fill="#1c6a8c" stroke="#0e3a50" stroke-width="0.8"/>
<path d="M975 424 Q990 414 1000 418 Q1008 421 1016 410 L1018 416 Q1010 425 998 423 Q988 421 982 425 Z" fill="#9cc864" opacity="0.75"/>
<path d="M962 414 Q975 411 985 416 L983 419 Q972 415 961 418 Z" fill="#48a8b8" opacity="0.8"/>
</svg>
<!-- /TV -->

<!-- texts -->
<div class="lbl" style="left:1252px;top:1018px;font-size:5px;color:#a8c4e8">公众号</div>
<div class="lbl" style="left:439px;top:291px;font-size:17px;letter-spacing:0.45px;color:#222">蓝牙传输位置信息</div>
<div class="lbl" style="left:438px;top:578px;font-size:17px;letter-spacing:0.15px;color:#222">LoRa传输位置信息</div>
<div class="lbl" style="left:351px;top:513px;font-size:21px">人员识别卡</div>
<div class="lbl" style="left:350px;top:923px;font-size:22px">通信基站</div>
<div class="lbl" style="left:680px;top:920px;font-size:22px">4/5G和网线传输</div>
<div class="lbl" style="left:1073px;top:923px;font-size:22px">定位引擎</div>
<div class="lbl" style="left:1018px;top:468px;font-size:22px">展示终端</div>

</body></html>
